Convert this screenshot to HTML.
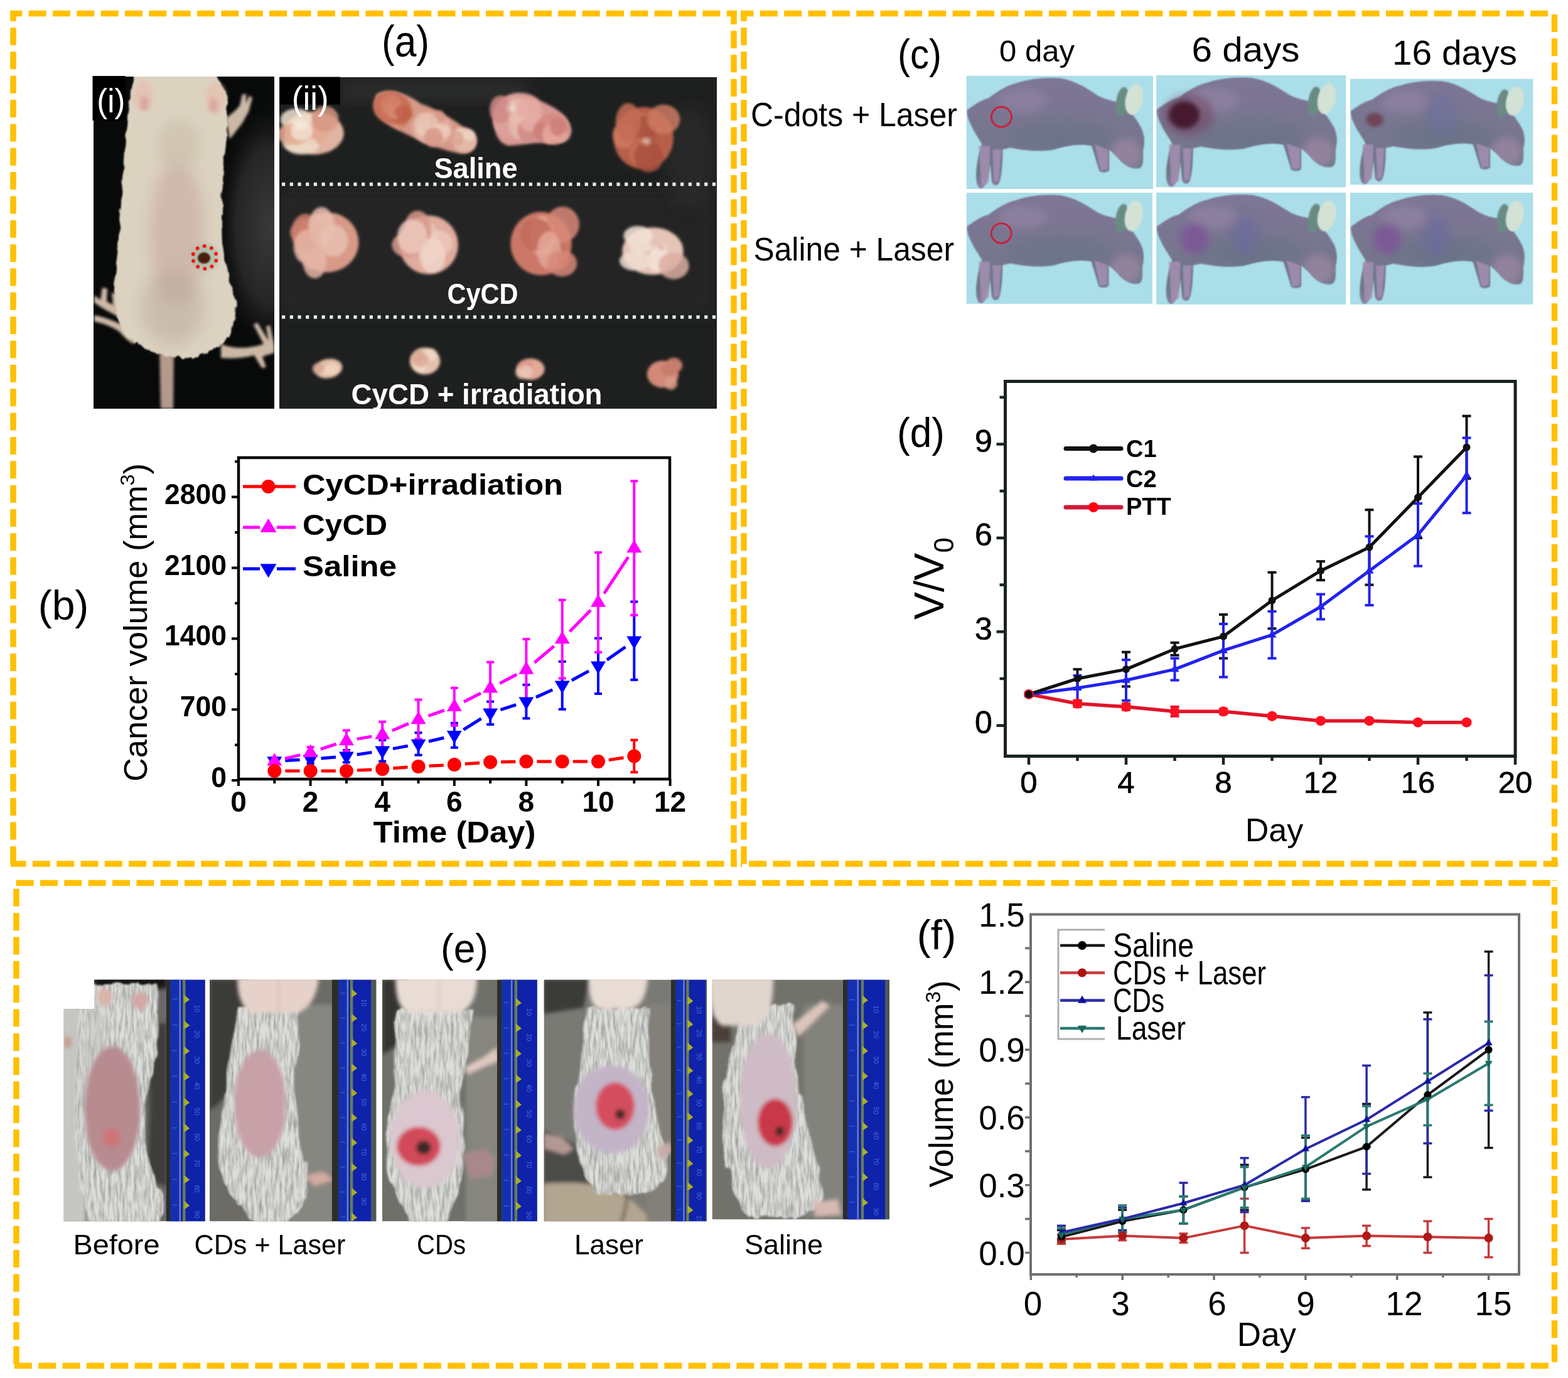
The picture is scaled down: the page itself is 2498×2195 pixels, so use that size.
<!DOCTYPE html><html><head><meta charset="utf-8"><title>Figure</title><style>html,body{margin:0;padding:0;background:#fff;}svg{display:block;}</style></head><body>
<svg xmlns="http://www.w3.org/2000/svg" width="2498" height="2195" viewBox="0 0 2498 2195">
<defs>
<filter id="b1" x="-30%" y="-30%" width="160%" height="160%"><feGaussianBlur stdDeviation="1"/></filter>
<filter id="b2" x="-30%" y="-30%" width="160%" height="160%"><feGaussianBlur stdDeviation="2"/></filter>
<filter id="b3" x="-30%" y="-30%" width="160%" height="160%"><feGaussianBlur stdDeviation="3"/></filter>
<filter id="b6" x="-30%" y="-30%" width="160%" height="160%"><feGaussianBlur stdDeviation="6"/></filter>
<filter id="b8" x="-30%" y="-30%" width="160%" height="160%"><feGaussianBlur stdDeviation="8"/></filter>
<filter id="b12" x="-30%" y="-30%" width="160%" height="160%"><feGaussianBlur stdDeviation="12"/></filter>
<filter id="fur" x="-20%" y="-20%" width="140%" height="140%"><feTurbulence type="fractalNoise" baseFrequency="0.08 0.02" numOctaves="2" seed="3" result="n"/><feDisplacementMap in="SourceGraphic" in2="n" scale="14" xChannelSelector="R" yChannelSelector="G" result="d"/><feGaussianBlur in="d" stdDeviation="1.5"/></filter>
<filter id="fur2" x="-10%" y="-10%" width="120%" height="120%"><feTurbulence type="fractalNoise" baseFrequency="0.15 0.05" numOctaves="2" seed="5" result="n"/><feDisplacementMap in="SourceGraphic" in2="n" scale="8" xChannelSelector="R" yChannelSelector="G" result="d"/><feGaussianBlur in="d" stdDeviation="1.2"/></filter>
<clipPath id="mcl"><path d="M1,55 C15,45 25,38 35,36 C50,25 65,15 80,12 C100,5 125,2 150,4 C175,8 195,22 210,32 C222,38 232,40 242,42 C255,48 270,65 280,85 C286,100 284,110 282,120 C282,135 283,145 276,148 C265,150 255,145 245,135 C240,128 232,122 228,118 L228,150 C228,155 215,156 212,152 L200,112 C180,108 160,112 140,118 C120,122 95,120 70,115 L58,118 C58,140 56,165 52,172 C48,178 40,175 40,165 L38,140 C36,160 32,178 24,180 C18,180 14,170 16,150 C18,130 22,118 25,110 C20,100 12,90 8,80 C4,72 1,66 1,55 Z"/></clipPath>
<linearGradient id="mgrad" x1="0" y1="0" x2="0" y2="1"><stop offset="0" stop-color="#7e7696"/><stop offset="0.5" stop-color="#78768f"/><stop offset="0.85" stop-color="#6c7889"/><stop offset="1" stop-color="#8a7c9c"/></linearGradient>
<filter id="furtex" x="0" y="0" width="100%" height="100%"><feTurbulence type="fractalNoise" baseFrequency="0.22 0.035" numOctaves="3" seed="7" result="t"/><feColorMatrix in="t" type="matrix" values="0 0 0 0 0.25  0 0 0 0 0.25  0 0 0 0 0.24  1.4 0 0 0 -0.5" result="a"/><feComposite in="a" in2="SourceGraphic" operator="in"/></filter>
</defs>
<rect width="2498" height="2195" fill="#fff"/>
<line x1="17" y1="21.5" x2="1174" y2="21.5" stroke="#FFC000" stroke-width="9.5" stroke-dasharray="28 10.35" stroke-dashoffset="9.75"/>
<line x1="21.0" y1="17" x2="21.0" y2="1381" stroke="#FFC000" stroke-width="9.5" stroke-dasharray="28 10.35" stroke-dashoffset="11.35"/>
<line x1="17" y1="1376.0" x2="1174" y2="1376.0" stroke="#FFC000" stroke-width="9.5" stroke-dasharray="28 10.35" stroke-dashoffset="3.55"/>
<line x1="1169.0" y1="17" x2="1169.0" y2="1381" stroke="#FFC000" stroke-width="9.5" stroke-dasharray="28 10.35" stroke-dashoffset="6.35"/>
<line x1="1180" y1="21.5" x2="2470" y2="21.5" stroke="#FFC000" stroke-width="9.5" stroke-dasharray="28 10.35" stroke-dashoffset="7.55"/>
<line x1="1185.0" y1="17" x2="1185.0" y2="1381" stroke="#FFC000" stroke-width="9.5" stroke-dasharray="28 10.35" stroke-dashoffset="11.35"/>
<line x1="2476.5" y1="17" x2="2476.5" y2="1381" stroke="#FFC000" stroke-width="9.5" stroke-dasharray="28 10.35" stroke-dashoffset="32.35"/>
<line x1="1180" y1="1376.0" x2="2482" y2="1376.0" stroke="#FFC000" stroke-width="9.5" stroke-dasharray="28 10.35" stroke-dashoffset="25.30"/>
<line x1="21" y1="1406.5" x2="2472.5" y2="1406.5" stroke="#FFC000" stroke-width="9.5" stroke-dasharray="28 10.35" stroke-dashoffset="33.75"/>
<line x1="26.0" y1="1406" x2="26.0" y2="2181" stroke="#FFC000" stroke-width="9.5" stroke-dasharray="28 10.35" stroke-dashoffset="28.55"/>
<line x1="2476.5" y1="1402" x2="2476.5" y2="2173" stroke="#FFC000" stroke-width="9.5" stroke-dasharray="28 10.35" stroke-dashoffset="27.35"/>
<line x1="21" y1="2175.5" x2="2470" y2="2175.5" stroke="#FFC000" stroke-width="9.5" stroke-dasharray="28 10.35" stroke-dashoffset="36.50"/>
<text x="646.0" y="90.0" font-size="70" font-weight="normal" text-anchor="middle" fill="#000" font-family='"Liberation Sans", Arial, sans-serif' textLength="76" lengthAdjust="spacingAndGlyphs" >(a)</text>
<clipPath id="cpi"><rect x="149" y="122" width="288" height="529"/></clipPath>
<g clip-path="url(#cpi)">
<rect x="149" y="122" width="288" height="529" fill="#080a0a"/>
<radialGradient id="rgi"><stop offset="0" stop-color="#3a3838"/><stop offset="0.6" stop-color="#262525"/><stop offset="1" stop-color="#080a0a" stop-opacity="0"/></radialGradient>
<ellipse cx="430" cy="360" rx="90" ry="210" fill="url(#rgi)"/>
<g filter="url(#b2)" fill="#cdb8a6">
<path d="M205,512 C190,505 175,498 162,490 L150,482 L150,470 L160,478 L163,458 L171,460 L170,480 L180,486 L178,466 L186,468 L187,490 C196,498 206,505 214,515 L214,548 C205,545 196,535 190,528 C178,520 165,515 150,512 L150,502 C165,505 180,510 200,520 Z"/>
<path d="M352,548 C372,556 395,556 420,548 L404,517 L410,514 L428,543 L424,520 L430,518 L437,550 L437,562 L418,568 L424,585 L417,586 L405,566 C388,570 368,572 352,570 Z"/>
<path d="M360,188 C368,182 376,176 382,168 L386,150 L392,150 L392,165 L397,152 L402,156 L396,178 L386,196 C378,206 372,214 366,222 Z"/>
</g>
<path d="M254,555 L277,555 L276,651 L256,651 Z" fill="#b49a8c" filter="url(#b2)"/>
<path d="M212,100 L345,100 L345,122 C358,138 364,160 362,182 C364,205 360,230 357,255 C354,300 353,340 355,390 C358,425 368,450 374,472 C378,495 374,518 364,535 C358,545 350,552 340,556 L318,566 L300,572 L282,568 L262,566 L240,560 L222,550 L205,538 C192,525 184,505 182,480 C181,450 185,420 188,395 C191,350 195,300 198,255 C201,205 205,160 212,122 Z" fill="#dcd2c0" filter="url(#fur2)"/>
<ellipse cx="282" cy="370" rx="42" ry="115" fill="#c4a29c" opacity="0.55" filter="url(#b12)"/>
<ellipse cx="275" cy="490" rx="50" ry="60" fill="#b4a396" opacity="0.45" filter="url(#b12)"/>
<ellipse cx="285" cy="230" rx="35" ry="40" fill="#c8bba8" opacity="0.5" filter="url(#b8)"/>
<ellipse cx="228" cy="152" rx="16" ry="24" fill="#e4c4b4" filter="url(#b3)"/>
<ellipse cx="343" cy="155" rx="16" ry="24" fill="#e4c4b4" filter="url(#b3)"/>
<ellipse cx="230" cy="165" rx="7" ry="12" fill="#d8a8a0" filter="url(#b3)"/>
<ellipse cx="340" cy="168" rx="7" ry="12" fill="#d8a8a0" filter="url(#b3)"/>
<ellipse cx="327" cy="410" rx="22" ry="22" fill="#8ab8a0" opacity="0.5" filter="url(#b3)"/>
<ellipse cx="325" cy="411" rx="10" ry="9" fill="#4a1a10" filter="url(#b1)"/>
<circle cx="344.2" cy="415.3" r="3" fill="#ff1010"/>
<circle cx="337.4" cy="424.4" r="3" fill="#ff1010"/>
<circle cx="326.3" cy="428.0" r="3" fill="#ff1010"/>
<circle cx="315.1" cy="424.7" r="3" fill="#ff1010"/>
<circle cx="308.0" cy="415.8" r="3" fill="#ff1010"/>
<circle cx="307.8" cy="404.7" r="3" fill="#ff1010"/>
<circle cx="314.6" cy="395.6" r="3" fill="#ff1010"/>
<circle cx="325.7" cy="392.0" r="3" fill="#ff1010"/>
<circle cx="336.9" cy="395.3" r="3" fill="#ff1010"/>
<circle cx="344.0" cy="404.2" r="3" fill="#ff1010"/>
</g>
<rect x="147.5" y="121" width="52.5" height="71" fill="#000"/>
<text x="176.8" y="179.3" font-size="54" font-weight="normal" text-anchor="middle" fill="#fff" font-family='"Liberation Sans", Arial, sans-serif' textLength="45" lengthAdjust="spacingAndGlyphs" >(i)</text>
<clipPath id="cpii"><rect x="445" y="123" width="697" height="528"/></clipPath>
<g clip-path="url(#cpii)">
<rect x="445" y="123" width="697" height="528" fill="#1e201f"/>
<rect x="540" y="130" width="300" height="30" fill="#3a3a3a" opacity="0.5" filter="url(#b12)"/>
<rect x="445" y="300" width="697" height="200" fill="#262827" opacity="0.8" filter="url(#b12)"/>
<ellipse cx="1100" cy="250" rx="40" ry="80" fill="#2e2e2e" opacity="0.6" filter="url(#b12)"/>
<g transform="rotate(0 500 212)" filter="url(#b2)">
<ellipse cx="500" cy="212" rx="47.7" ry="34.2" fill="#e0b4a0"/>
<ellipse cx="475.2" cy="227.8" rx="25.1" ry="16.0" fill="#ecd8c6" opacity="0.85"/>
<ellipse cx="499.7" cy="209.7" rx="23.9" ry="20.9" fill="#e4a890" opacity="0.85"/>
<ellipse cx="472.4" cy="190.5" rx="25.8" ry="17.6" fill="#f0e0d0" opacity="0.85"/>
<ellipse cx="517.8" cy="189.3" rx="21.7" ry="20.3" fill="#d89884" opacity="0.85"/>
<ellipse cx="481.6" cy="232.3" rx="26.5" ry="14.0" fill="#ecd8c6" opacity="0.85"/>
<ellipse cx="467.8" cy="213.9" rx="26.9" ry="17.2" fill="#e4a890" opacity="0.85"/>
<ellipse cx="480.8" cy="208.4" rx="17.3" ry="15.7" fill="#f0e0d0" opacity="0.85"/>
</g>
<ellipse cx="478" cy="200" rx="10" ry="8.0" fill="#f8f0e4" opacity="0.6" filter="url(#b3)"/>
<path d="M600,150 C620,138 650,150 670,165 C700,175 730,195 755,215 C765,235 750,248 730,244 C700,238 670,225 640,210 C610,198 590,175 600,150 Z" fill="#d69a88" filter="url(#b2)"/>
<g transform="rotate(20 625 172)" filter="url(#b2)">
<ellipse cx="625" cy="172" rx="31.5" ry="26.1" fill="#c8705a"/>
<ellipse cx="645.4" cy="187.6" rx="11.6" ry="11.0" fill="#d48068" opacity="0.85"/>
<ellipse cx="640.0" cy="180.2" rx="15.9" ry="12.6" fill="#c06048" opacity="0.85"/>
<ellipse cx="629.7" cy="175.7" rx="15.3" ry="11.5" fill="#dc9a88" opacity="0.85"/>
<ellipse cx="621.9" cy="168.3" rx="16.3" ry="17.4" fill="#d48068" opacity="0.85"/>
<ellipse cx="645.1" cy="173.5" rx="14.3" ry="12.3" fill="#c06048" opacity="0.85"/>
</g>
<g transform="rotate(15 688 205)" filter="url(#b2)">
<ellipse cx="688" cy="205" rx="31.5" ry="26.1" fill="#e2b0a0"/>
<ellipse cx="676.3" cy="206.5" rx="13.8" ry="14.6" fill="#ecccbc" opacity="0.85"/>
<ellipse cx="693.6" cy="189.9" rx="11.3" ry="16.3" fill="#d8988a" opacity="0.85"/>
<ellipse cx="677.2" cy="195.8" rx="18.2" ry="13.7" fill="#e8c2b0" opacity="0.85"/>
<ellipse cx="703.1" cy="204.2" rx="15.7" ry="11.5" fill="#ecccbc" opacity="0.85"/>
<ellipse cx="694.0" cy="217.8" rx="14.9" ry="15.6" fill="#d8988a" opacity="0.85"/>
</g>
<g transform="rotate(0 740 223)" filter="url(#b2)">
<ellipse cx="740" cy="223" rx="19.8" ry="19.8" fill="#e4b8a8"/>
<ellipse cx="732.6" cy="212.5" rx="8.8" ry="8.7" fill="#f0d4c4" opacity="0.85"/>
<ellipse cx="727.8" cy="220.4" rx="11.1" ry="12.1" fill="#dca494" opacity="0.85"/>
<ellipse cx="747.5" cy="215.7" rx="9.4" ry="9.4" fill="#f0d4c4" opacity="0.85"/>
</g>
<path d="M790,170 C800,145 840,140 860,160 C880,170 905,180 910,205 C912,225 895,232 870,228 C850,226 830,232 810,232 C790,228 782,200 790,170 Z" fill="#d89a94" filter="url(#b2)"/>
<g transform="rotate(0 825 188)" filter="url(#b2)">
<ellipse cx="825" cy="188" rx="40.5" ry="35.1" fill="#dca09a"/>
<ellipse cx="832.1" cy="199.3" rx="21.6" ry="22.9" fill="#e8bcb0" opacity="0.85"/>
<ellipse cx="838.8" cy="207.8" rx="14.7" ry="18.4" fill="#d08a86" opacity="0.85"/>
<ellipse cx="850.5" cy="195.0" rx="22.5" ry="15.1" fill="#e4aca4" opacity="0.85"/>
<ellipse cx="823.2" cy="176.1" rx="19.3" ry="19.4" fill="#e8bcb0" opacity="0.85"/>
<ellipse cx="797.0" cy="174.7" rx="16.9" ry="22.6" fill="#d08a86" opacity="0.85"/>
<ellipse cx="840.3" cy="172.1" rx="21.6" ry="15.3" fill="#e4aca4" opacity="0.85"/>
</g>
<g transform="rotate(0 880 205)" filter="url(#b2)">
<ellipse cx="880" cy="205" rx="27.0" ry="24.8" fill="#d88c84"/>
<ellipse cx="891.3" cy="215.6" rx="12.5" ry="11.6" fill="#e4a89c" opacity="0.85"/>
<ellipse cx="860.8" cy="210.4" rx="12.4" ry="14.9" fill="#cc7e78" opacity="0.85"/>
<ellipse cx="875.1" cy="213.9" rx="11.2" ry="15.2" fill="#e4a89c" opacity="0.85"/>
<ellipse cx="888.8" cy="202.2" rx="12.8" ry="14.4" fill="#cc7e78" opacity="0.85"/>
</g>
<ellipse cx="815" cy="172" rx="8" ry="6.4" fill="#f8f0e4" opacity="0.5" filter="url(#b3)"/>
<g transform="rotate(0 1025 220)" filter="url(#b2)">
<ellipse cx="1025" cy="220" rx="47.7" ry="49.5" fill="#b85e48"/>
<ellipse cx="1013.0" cy="197.0" rx="23.9" ry="20.8" fill="#c46c54" opacity="0.85"/>
<ellipse cx="1027.4" cy="211.1" rx="17.6" ry="26.5" fill="#a85040" opacity="0.85"/>
<ellipse cx="993.6" cy="215.6" rx="17.7" ry="21.0" fill="#cc7a60" opacity="0.85"/>
<ellipse cx="1019.9" cy="241.6" rx="18.3" ry="22.7" fill="#c46c54" opacity="0.85"/>
<ellipse cx="1033.6" cy="249.5" rx="23.1" ry="25.0" fill="#a85040" opacity="0.85"/>
<ellipse cx="1057.3" cy="190.1" rx="26.1" ry="23.6" fill="#cc7a60" opacity="0.85"/>
<ellipse cx="1000.9" cy="194.8" rx="20.2" ry="30.6" fill="#c46c54" opacity="0.85"/>
</g>
<ellipse cx="1030" cy="225" rx="7" ry="5.6" fill="#f8f0e4" opacity="0.6" filter="url(#b3)"/>
<g transform="rotate(0 521 386)" filter="url(#b2)">
<ellipse cx="521" cy="386" rx="50.4" ry="47.7" fill="#d89a88"/>
<ellipse cx="501.4" cy="415.4" rx="19.3" ry="28.0" fill="#e4b4a4" opacity="0.85"/>
<ellipse cx="491.3" cy="369.9" rx="29.1" ry="21.7" fill="#cc806e" opacity="0.85"/>
<ellipse cx="531.2" cy="383.4" rx="23.0" ry="25.4" fill="#e8c0b0" opacity="0.85"/>
<ellipse cx="498.9" cy="407.0" rx="18.9" ry="22.1" fill="#e4b4a4" opacity="0.85"/>
<ellipse cx="486.6" cy="371.2" rx="22.5" ry="30.6" fill="#cc806e" opacity="0.85"/>
<ellipse cx="512.3" cy="361.4" rx="20.8" ry="31.7" fill="#e8c0b0" opacity="0.85"/>
<ellipse cx="489.7" cy="393.6" rx="22.1" ry="27.5" fill="#e4b4a4" opacity="0.85"/>
</g>
<g transform="rotate(0 683 390)" filter="url(#b2)">
<ellipse cx="683" cy="390" rx="46.8" ry="46.8" fill="#e0ac9e"/>
<ellipse cx="680.5" cy="382.1" rx="18.1" ry="29.5" fill="#ecc8bc" opacity="0.85"/>
<ellipse cx="650.1" cy="390.2" rx="26.0" ry="19.7" fill="#d89a8c" opacity="0.85"/>
<ellipse cx="686.6" cy="397.3" rx="17.1" ry="23.5" fill="#f0d4c8" opacity="0.85"/>
<ellipse cx="696.5" cy="387.0" rx="24.2" ry="20.7" fill="#ecc8bc" opacity="0.85"/>
<ellipse cx="665.6" cy="365.7" rx="21.9" ry="30.2" fill="#d89a8c" opacity="0.85"/>
<ellipse cx="689.0" cy="407.1" rx="20.6" ry="28.0" fill="#f0d4c8" opacity="0.85"/>
<ellipse cx="656.5" cy="377.0" rx="23.7" ry="27.8" fill="#ecc8bc" opacity="0.85"/>
</g>
<g transform="rotate(0 862 388)" filter="url(#b2)">
<ellipse cx="862" cy="388" rx="48.6" ry="50.4" fill="#cc7868"/>
<ellipse cx="866.9" cy="383.2" rx="23.5" ry="22.9" fill="#d88878" opacity="0.85"/>
<ellipse cx="883.7" cy="409.7" rx="24.3" ry="22.3" fill="#c06a5a" opacity="0.85"/>
<ellipse cx="863.4" cy="376.4" rx="20.0" ry="33.0" fill="#e4a898" opacity="0.85"/>
<ellipse cx="896.3" cy="357.4" rx="26.6" ry="28.3" fill="#d88878" opacity="0.85"/>
<ellipse cx="853.8" cy="373.5" rx="24.6" ry="26.3" fill="#c06a5a" opacity="0.85"/>
<ellipse cx="874.8" cy="398.9" rx="18.7" ry="30.5" fill="#e4a898" opacity="0.85"/>
<ellipse cx="895.3" cy="419.5" rx="23.9" ry="20.8" fill="#d88878" opacity="0.85"/>
</g>
<g transform="rotate(0 1040 400)" filter="url(#b2)">
<ellipse cx="1040" cy="400" rx="48.6" ry="37.8" fill="#e6c4b8"/>
<ellipse cx="1036.7" cy="403.0" rx="27.3" ry="19.8" fill="#f0dcd0" opacity="0.85"/>
<ellipse cx="1040.5" cy="404.4" rx="19.3" ry="20.3" fill="#dcaea0" opacity="0.85"/>
<ellipse cx="1049.0" cy="414.8" rx="18.3" ry="18.2" fill="#f4e4d8" opacity="0.85"/>
<ellipse cx="1011.7" cy="415.6" rx="24.8" ry="15.5" fill="#f0dcd0" opacity="0.85"/>
<ellipse cx="1073.3" cy="423.4" rx="24.3" ry="21.3" fill="#dcaea0" opacity="0.85"/>
<ellipse cx="1016.3" cy="375.6" rx="23.0" ry="15.7" fill="#f4e4d8" opacity="0.85"/>
<ellipse cx="1018.6" cy="387.0" rx="17.6" ry="19.8" fill="#f0dcd0" opacity="0.85"/>
</g>
<ellipse cx="1040" cy="395" rx="10" ry="8.0" fill="#f8f0e4" opacity="0.5" filter="url(#b3)"/>
<g transform="rotate(-10 523 587)" filter="url(#b2)">
<ellipse cx="523" cy="587" rx="22.5" ry="15.3" fill="#e4c0aa"/>
<ellipse cx="522.2" cy="590.2" rx="11.3" ry="6.7" fill="#eed4c0" opacity="0.85"/>
<ellipse cx="507.3" cy="584.4" rx="9.4" ry="9.4" fill="#d8a890" opacity="0.85"/>
<ellipse cx="529.1" cy="589.1" rx="10.8" ry="8.8" fill="#eed4c0" opacity="0.85"/>
</g>
<g transform="rotate(0 677 575)" filter="url(#b2)">
<ellipse cx="677" cy="575" rx="24.3" ry="21.6" fill="#e6c2ae"/>
<ellipse cx="668.7" cy="580.3" rx="12.3" ry="13.5" fill="#f0d8c6" opacity="0.85"/>
<ellipse cx="666.1" cy="567.2" rx="9.4" ry="9.9" fill="#dcaa98" opacity="0.85"/>
<ellipse cx="685.1" cy="564.4" rx="11.5" ry="9.9" fill="#f0d8c6" opacity="0.85"/>
<ellipse cx="669.9" cy="573.0" rx="13.2" ry="12.1" fill="#dcaa98" opacity="0.85"/>
</g>
<g transform="rotate(0 845 588)" filter="url(#b2)">
<ellipse cx="845" cy="588" rx="22.5" ry="17.1" fill="#e2aa98"/>
<ellipse cx="832.4" cy="592.6" rx="11.3" ry="11.1" fill="#ecc4b4" opacity="0.85"/>
<ellipse cx="837.7" cy="582.4" rx="11.7" ry="9.8" fill="#d89888" opacity="0.85"/>
<ellipse cx="838.7" cy="592.2" rx="10.0" ry="10.4" fill="#ecc4b4" opacity="0.85"/>
</g>
<g transform="rotate(0 1056 596)" filter="url(#b2)">
<ellipse cx="1056" cy="596" rx="25.2" ry="21.6" fill="#d28a78"/>
<ellipse cx="1072.7" cy="581.9" rx="13.1" ry="9.6" fill="#dc9c8a" opacity="0.85"/>
<ellipse cx="1073.4" cy="582.1" rx="13.9" ry="12.6" fill="#c87a6a" opacity="0.85"/>
<ellipse cx="1068.8" cy="610.4" rx="10.3" ry="10.6" fill="#dc9c8a" opacity="0.85"/>
<ellipse cx="1063.5" cy="589.7" rx="10.4" ry="10.0" fill="#c87a6a" opacity="0.85"/>
</g>
<line x1="449" y1="293.5" x2="1142" y2="293.5" stroke="#e4ece4" stroke-width="5.3" stroke-dasharray="5.3 7.4"/>
<line x1="449" y1="505" x2="1142" y2="505" stroke="#e4ece4" stroke-width="5.3" stroke-dasharray="5.3 7.4"/>
<text x="758.0" y="284.0" font-size="47" font-weight="bold" text-anchor="middle" fill="#fff" font-family='"Liberation Sans", Arial, sans-serif' textLength="133" lengthAdjust="spacingAndGlyphs" >Saline</text>
<text x="769.0" y="483.5" font-size="47" font-weight="bold" text-anchor="middle" fill="#fff" font-family='"Liberation Sans", Arial, sans-serif' textLength="113" lengthAdjust="spacingAndGlyphs" >CyCD</text>
<text x="759.5" y="644.0" font-size="47" font-weight="bold" text-anchor="middle" fill="#fff" font-family='"Liberation Sans", Arial, sans-serif' textLength="400" lengthAdjust="spacingAndGlyphs" >CyCD + irradiation</text>
</g>
<rect x="445.4" y="122.5" width="96.5" height="44" fill="#000"/>
<text x="494.3" y="174.5" font-size="54" font-weight="normal" text-anchor="middle" fill="#fff" font-family='"Liberation Sans", Arial, sans-serif' textLength="59" lengthAdjust="spacingAndGlyphs" >(ii)</text>
<rect x="380" y="729" width="687" height="512" fill="none" stroke="#000" stroke-width="4.5"/>
<line x1="369.0" y1="1243.0" x2="380.0" y2="1243.0" stroke="#000" stroke-width="4" />
<line x1="374.0" y1="1186.6" x2="380.0" y2="1186.6" stroke="#000" stroke-width="4" />
<line x1="369.0" y1="1130.2" x2="380.0" y2="1130.2" stroke="#000" stroke-width="4" />
<line x1="374.0" y1="1073.7" x2="380.0" y2="1073.7" stroke="#000" stroke-width="4" />
<line x1="369.0" y1="1017.3" x2="380.0" y2="1017.3" stroke="#000" stroke-width="4" />
<line x1="374.0" y1="960.9" x2="380.0" y2="960.9" stroke="#000" stroke-width="4" />
<line x1="369.0" y1="904.5" x2="380.0" y2="904.5" stroke="#000" stroke-width="4" />
<line x1="374.0" y1="848.1" x2="380.0" y2="848.1" stroke="#000" stroke-width="4" />
<line x1="369.0" y1="791.6" x2="380.0" y2="791.6" stroke="#000" stroke-width="4" />
<line x1="374.0" y1="735.2" x2="380.0" y2="735.2" stroke="#000" stroke-width="4" />
<text transform="translate(361.0,1254.0) scale(1,1.04)" font-size="44.5" font-weight="bold" text-anchor="end" fill="#000" font-family='"Liberation Sans", Arial, sans-serif' >0</text>
<text transform="translate(361.0,1141.2) scale(1,1.04)" font-size="44.5" font-weight="bold" text-anchor="end" fill="#000" font-family='"Liberation Sans", Arial, sans-serif' >700</text>
<text transform="translate(361.0,1028.3) scale(1,1.04)" font-size="44.5" font-weight="bold" text-anchor="end" fill="#000" font-family='"Liberation Sans", Arial, sans-serif' >1400</text>
<text transform="translate(361.0,915.5) scale(1,1.04)" font-size="44.5" font-weight="bold" text-anchor="end" fill="#000" font-family='"Liberation Sans", Arial, sans-serif' >2100</text>
<text transform="translate(361.0,802.6) scale(1,1.04)" font-size="44.5" font-weight="bold" text-anchor="end" fill="#000" font-family='"Liberation Sans", Arial, sans-serif' >2800</text>
<line x1="380.0" y1="1241.0" x2="380.0" y2="1252.0" stroke="#000" stroke-width="4" />
<line x1="437.3" y1="1241.0" x2="437.3" y2="1248.0" stroke="#000" stroke-width="4" />
<line x1="494.6" y1="1241.0" x2="494.6" y2="1252.0" stroke="#000" stroke-width="4" />
<line x1="551.9" y1="1241.0" x2="551.9" y2="1248.0" stroke="#000" stroke-width="4" />
<line x1="609.2" y1="1241.0" x2="609.2" y2="1252.0" stroke="#000" stroke-width="4" />
<line x1="666.5" y1="1241.0" x2="666.5" y2="1248.0" stroke="#000" stroke-width="4" />
<line x1="723.8" y1="1241.0" x2="723.8" y2="1252.0" stroke="#000" stroke-width="4" />
<line x1="781.1" y1="1241.0" x2="781.1" y2="1248.0" stroke="#000" stroke-width="4" />
<line x1="838.4" y1="1241.0" x2="838.4" y2="1252.0" stroke="#000" stroke-width="4" />
<line x1="895.7" y1="1241.0" x2="895.7" y2="1248.0" stroke="#000" stroke-width="4" />
<line x1="953.0" y1="1241.0" x2="953.0" y2="1252.0" stroke="#000" stroke-width="4" />
<line x1="1010.3" y1="1241.0" x2="1010.3" y2="1248.0" stroke="#000" stroke-width="4" />
<line x1="1067.6" y1="1241.0" x2="1067.6" y2="1252.0" stroke="#000" stroke-width="4" />
<text x="380.0" y="1293.0" font-size="46" font-weight="bold" text-anchor="middle" fill="#000" font-family='"Liberation Sans", Arial, sans-serif' >0</text>
<text x="494.6" y="1293.0" font-size="46" font-weight="bold" text-anchor="middle" fill="#000" font-family='"Liberation Sans", Arial, sans-serif' >2</text>
<text x="609.2" y="1293.0" font-size="46" font-weight="bold" text-anchor="middle" fill="#000" font-family='"Liberation Sans", Arial, sans-serif' >4</text>
<text x="723.8" y="1293.0" font-size="46" font-weight="bold" text-anchor="middle" fill="#000" font-family='"Liberation Sans", Arial, sans-serif' >6</text>
<text x="838.4" y="1293.0" font-size="46" font-weight="bold" text-anchor="middle" fill="#000" font-family='"Liberation Sans", Arial, sans-serif' >8</text>
<text x="953.0" y="1293.0" font-size="46" font-weight="bold" text-anchor="middle" fill="#000" font-family='"Liberation Sans", Arial, sans-serif' >10</text>
<text x="1067.6" y="1293.0" font-size="46" font-weight="bold" text-anchor="middle" fill="#000" font-family='"Liberation Sans", Arial, sans-serif' >12</text>
<text transform="translate(724.0,1342.3) scale(1,1.08)" font-size="45" font-weight="bold" text-anchor="middle" fill="#000" font-family='"Liberation Sans", Arial, sans-serif' textLength="259" lengthAdjust="spacingAndGlyphs" >Time (Day)</text>
<text transform="translate(233.5,991.5) rotate(-90)" font-size="52" text-anchor="middle" font-family='"Liberation Sans", Arial, sans-serif' fill="#000" textLength="507" lengthAdjust="spacingAndGlyphs">Cancer volume (mm<tspan font-size="32" dy="-20">3</tspan><tspan dy="20">)</tspan></text>
<line x1="437.3" y1="1208.3" x2="437.3" y2="1216.4" stroke="#0000ff" stroke-width="4" />
<line x1="431.3" y1="1208.3" x2="443.3" y2="1208.3" stroke="#0000ff" stroke-width="4" />
<line x1="431.3" y1="1216.4" x2="443.3" y2="1216.4" stroke="#0000ff" stroke-width="4" />
<line x1="494.6" y1="1203.0" x2="494.6" y2="1215.9" stroke="#0000ff" stroke-width="4" />
<line x1="488.6" y1="1203.0" x2="500.6" y2="1203.0" stroke="#0000ff" stroke-width="4" />
<line x1="488.6" y1="1215.9" x2="500.6" y2="1215.9" stroke="#0000ff" stroke-width="4" />
<line x1="551.9" y1="1195.0" x2="551.9" y2="1214.3" stroke="#0000ff" stroke-width="4" />
<line x1="545.9" y1="1195.0" x2="557.9" y2="1195.0" stroke="#0000ff" stroke-width="4" />
<line x1="545.9" y1="1214.3" x2="557.9" y2="1214.3" stroke="#0000ff" stroke-width="4" />
<line x1="609.2" y1="1178.8" x2="609.2" y2="1212.7" stroke="#0000ff" stroke-width="4" />
<line x1="603.2" y1="1178.8" x2="615.2" y2="1178.8" stroke="#0000ff" stroke-width="4" />
<line x1="603.2" y1="1212.7" x2="615.2" y2="1212.7" stroke="#0000ff" stroke-width="4" />
<line x1="666.5" y1="1167.2" x2="666.5" y2="1202.7" stroke="#0000ff" stroke-width="4" />
<line x1="660.5" y1="1167.2" x2="672.5" y2="1167.2" stroke="#0000ff" stroke-width="4" />
<line x1="660.5" y1="1202.7" x2="672.5" y2="1202.7" stroke="#0000ff" stroke-width="4" />
<line x1="723.8" y1="1151.8" x2="723.8" y2="1190.8" stroke="#0000ff" stroke-width="4" />
<line x1="717.8" y1="1151.8" x2="729.8" y2="1151.8" stroke="#0000ff" stroke-width="4" />
<line x1="717.8" y1="1190.8" x2="729.8" y2="1190.8" stroke="#0000ff" stroke-width="4" />
<line x1="781.1" y1="1117.6" x2="781.1" y2="1154.0" stroke="#0000ff" stroke-width="4" />
<line x1="775.1" y1="1117.6" x2="787.1" y2="1117.6" stroke="#0000ff" stroke-width="4" />
<line x1="775.1" y1="1154.0" x2="787.1" y2="1154.0" stroke="#0000ff" stroke-width="4" />
<line x1="838.4" y1="1090.8" x2="838.4" y2="1144.3" stroke="#0000ff" stroke-width="4" />
<line x1="832.4" y1="1090.8" x2="844.4" y2="1090.8" stroke="#0000ff" stroke-width="4" />
<line x1="832.4" y1="1144.3" x2="844.4" y2="1144.3" stroke="#0000ff" stroke-width="4" />
<line x1="895.7" y1="1053.8" x2="895.7" y2="1129.8" stroke="#0000ff" stroke-width="4" />
<line x1="889.7" y1="1053.8" x2="901.7" y2="1053.8" stroke="#0000ff" stroke-width="4" />
<line x1="889.7" y1="1129.8" x2="901.7" y2="1129.8" stroke="#0000ff" stroke-width="4" />
<line x1="953.0" y1="1016.7" x2="953.0" y2="1105.0" stroke="#0000ff" stroke-width="4" />
<line x1="947.0" y1="1016.7" x2="959.0" y2="1016.7" stroke="#0000ff" stroke-width="4" />
<line x1="947.0" y1="1105.0" x2="959.0" y2="1105.0" stroke="#0000ff" stroke-width="4" />
<line x1="1010.3" y1="958.5" x2="1010.3" y2="1082.9" stroke="#0000ff" stroke-width="4" />
<line x1="1004.3" y1="958.5" x2="1016.3" y2="958.5" stroke="#0000ff" stroke-width="4" />
<line x1="1004.3" y1="1082.9" x2="1016.3" y2="1082.9" stroke="#0000ff" stroke-width="4" />
<line x1="437.3" y1="1207.5" x2="437.3" y2="1217.2" stroke="#ff00ff" stroke-width="4" />
<line x1="431.3" y1="1207.5" x2="443.3" y2="1207.5" stroke="#ff00ff" stroke-width="4" />
<line x1="431.3" y1="1217.2" x2="443.3" y2="1217.2" stroke="#ff00ff" stroke-width="4" />
<line x1="494.6" y1="1190.0" x2="494.6" y2="1207.4" stroke="#ff00ff" stroke-width="4" />
<line x1="488.6" y1="1190.0" x2="500.6" y2="1190.0" stroke="#ff00ff" stroke-width="4" />
<line x1="488.6" y1="1207.4" x2="500.6" y2="1207.4" stroke="#ff00ff" stroke-width="4" />
<line x1="551.9" y1="1163.4" x2="551.9" y2="1196.6" stroke="#ff00ff" stroke-width="4" />
<line x1="545.9" y1="1163.4" x2="557.9" y2="1163.4" stroke="#ff00ff" stroke-width="4" />
<line x1="545.9" y1="1196.6" x2="557.9" y2="1196.6" stroke="#ff00ff" stroke-width="4" />
<line x1="609.2" y1="1149.7" x2="609.2" y2="1190.9" stroke="#ff00ff" stroke-width="4" />
<line x1="603.2" y1="1149.7" x2="615.2" y2="1149.7" stroke="#ff00ff" stroke-width="4" />
<line x1="603.2" y1="1190.9" x2="615.2" y2="1190.9" stroke="#ff00ff" stroke-width="4" />
<line x1="666.5" y1="1114.5" x2="666.5" y2="1177.4" stroke="#ff00ff" stroke-width="4" />
<line x1="660.5" y1="1114.5" x2="672.5" y2="1114.5" stroke="#ff00ff" stroke-width="4" />
<line x1="660.5" y1="1177.4" x2="672.5" y2="1177.4" stroke="#ff00ff" stroke-width="4" />
<line x1="723.8" y1="1095.8" x2="723.8" y2="1155.8" stroke="#ff00ff" stroke-width="4" />
<line x1="717.8" y1="1095.8" x2="729.8" y2="1095.8" stroke="#ff00ff" stroke-width="4" />
<line x1="717.8" y1="1155.8" x2="729.8" y2="1155.8" stroke="#ff00ff" stroke-width="4" />
<line x1="781.1" y1="1054.7" x2="781.1" y2="1137.9" stroke="#ff00ff" stroke-width="4" />
<line x1="775.1" y1="1054.7" x2="787.1" y2="1054.7" stroke="#ff00ff" stroke-width="4" />
<line x1="775.1" y1="1137.9" x2="787.1" y2="1137.9" stroke="#ff00ff" stroke-width="4" />
<line x1="838.4" y1="1018.1" x2="838.4" y2="1114.8" stroke="#ff00ff" stroke-width="4" />
<line x1="832.4" y1="1018.1" x2="844.4" y2="1018.1" stroke="#ff00ff" stroke-width="4" />
<line x1="832.4" y1="1114.8" x2="844.4" y2="1114.8" stroke="#ff00ff" stroke-width="4" />
<line x1="895.7" y1="955.7" x2="895.7" y2="1080.5" stroke="#ff00ff" stroke-width="4" />
<line x1="889.7" y1="955.7" x2="901.7" y2="955.7" stroke="#ff00ff" stroke-width="4" />
<line x1="889.7" y1="1080.5" x2="901.7" y2="1080.5" stroke="#ff00ff" stroke-width="4" />
<line x1="953.0" y1="880.1" x2="953.0" y2="1039.1" stroke="#ff00ff" stroke-width="4" />
<line x1="947.0" y1="880.1" x2="959.0" y2="880.1" stroke="#ff00ff" stroke-width="4" />
<line x1="947.0" y1="1039.1" x2="959.0" y2="1039.1" stroke="#ff00ff" stroke-width="4" />
<line x1="1010.3" y1="766.3" x2="1010.3" y2="979.8" stroke="#ff00ff" stroke-width="4" />
<line x1="1004.3" y1="766.3" x2="1016.3" y2="766.3" stroke="#ff00ff" stroke-width="4" />
<line x1="1004.3" y1="979.8" x2="1016.3" y2="979.8" stroke="#ff00ff" stroke-width="4" />
<line x1="437.3" y1="1224.0" x2="437.3" y2="1232.0" stroke="#ff0000" stroke-width="4" />
<line x1="431.3" y1="1224.0" x2="443.3" y2="1224.0" stroke="#ff0000" stroke-width="4" />
<line x1="431.3" y1="1232.0" x2="443.3" y2="1232.0" stroke="#ff0000" stroke-width="4" />
<line x1="494.6" y1="1224.0" x2="494.6" y2="1232.0" stroke="#ff0000" stroke-width="4" />
<line x1="488.6" y1="1224.0" x2="500.6" y2="1224.0" stroke="#ff0000" stroke-width="4" />
<line x1="488.6" y1="1232.0" x2="500.6" y2="1232.0" stroke="#ff0000" stroke-width="4" />
<line x1="551.9" y1="1224.0" x2="551.9" y2="1232.0" stroke="#ff0000" stroke-width="4" />
<line x1="545.9" y1="1224.0" x2="557.9" y2="1224.0" stroke="#ff0000" stroke-width="4" />
<line x1="545.9" y1="1232.0" x2="557.9" y2="1232.0" stroke="#ff0000" stroke-width="4" />
<line x1="609.2" y1="1220.9" x2="609.2" y2="1229.0" stroke="#ff0000" stroke-width="4" />
<line x1="603.2" y1="1220.9" x2="615.2" y2="1220.9" stroke="#ff0000" stroke-width="4" />
<line x1="603.2" y1="1229.0" x2="615.2" y2="1229.0" stroke="#ff0000" stroke-width="4" />
<line x1="666.5" y1="1216.1" x2="666.5" y2="1225.8" stroke="#ff0000" stroke-width="4" />
<line x1="660.5" y1="1216.1" x2="672.5" y2="1216.1" stroke="#ff0000" stroke-width="4" />
<line x1="660.5" y1="1225.8" x2="672.5" y2="1225.8" stroke="#ff0000" stroke-width="4" />
<line x1="723.8" y1="1213.2" x2="723.8" y2="1222.8" stroke="#ff0000" stroke-width="4" />
<line x1="717.8" y1="1213.2" x2="729.8" y2="1213.2" stroke="#ff0000" stroke-width="4" />
<line x1="717.8" y1="1222.8" x2="729.8" y2="1222.8" stroke="#ff0000" stroke-width="4" />
<line x1="781.1" y1="1209.1" x2="781.1" y2="1218.8" stroke="#ff0000" stroke-width="4" />
<line x1="775.1" y1="1209.1" x2="787.1" y2="1209.1" stroke="#ff0000" stroke-width="4" />
<line x1="775.1" y1="1218.8" x2="787.1" y2="1218.8" stroke="#ff0000" stroke-width="4" />
<line x1="838.4" y1="1207.4" x2="838.4" y2="1218.7" stroke="#ff0000" stroke-width="4" />
<line x1="832.4" y1="1207.4" x2="844.4" y2="1207.4" stroke="#ff0000" stroke-width="4" />
<line x1="832.4" y1="1218.7" x2="844.4" y2="1218.7" stroke="#ff0000" stroke-width="4" />
<line x1="895.7" y1="1207.4" x2="895.7" y2="1218.7" stroke="#ff0000" stroke-width="4" />
<line x1="889.7" y1="1207.4" x2="901.7" y2="1207.4" stroke="#ff0000" stroke-width="4" />
<line x1="889.7" y1="1218.7" x2="901.7" y2="1218.7" stroke="#ff0000" stroke-width="4" />
<line x1="953.0" y1="1205.0" x2="953.0" y2="1221.1" stroke="#ff0000" stroke-width="4" />
<line x1="947.0" y1="1205.0" x2="959.0" y2="1205.0" stroke="#ff0000" stroke-width="4" />
<line x1="947.0" y1="1221.1" x2="959.0" y2="1221.1" stroke="#ff0000" stroke-width="4" />
<line x1="1010.3" y1="1178.8" x2="1010.3" y2="1230.1" stroke="#ff0000" stroke-width="4" />
<line x1="1004.3" y1="1178.8" x2="1016.3" y2="1178.8" stroke="#ff0000" stroke-width="4" />
<line x1="1004.3" y1="1230.1" x2="1016.3" y2="1230.1" stroke="#ff0000" stroke-width="4" />
<line x1="454.3" y1="1211.5" x2="477.6" y2="1210.3" stroke="#0000ff" stroke-width="5" />
<line x1="511.5" y1="1208.0" x2="535.0" y2="1206.1" stroke="#0000ff" stroke-width="5" />
<line x1="568.7" y1="1202.0" x2="592.4" y2="1198.4" stroke="#0000ff" stroke-width="5" />
<line x1="625.9" y1="1192.6" x2="649.8" y2="1188.1" stroke="#0000ff" stroke-width="5" />
<line x1="683.0" y1="1181.0" x2="707.3" y2="1175.2" stroke="#0000ff" stroke-width="5" />
<line x1="738.3" y1="1162.3" x2="766.6" y2="1144.7" stroke="#0000ff" stroke-width="5" />
<line x1="797.3" y1="1130.7" x2="822.2" y2="1122.7" stroke="#0000ff" stroke-width="5" />
<line x1="853.9" y1="1110.6" x2="880.2" y2="1098.8" stroke="#0000ff" stroke-width="5" />
<line x1="910.7" y1="1083.7" x2="938.0" y2="1068.9" stroke="#0000ff" stroke-width="5" />
<line x1="966.9" y1="1051.1" x2="996.4" y2="1030.5" stroke="#0000ff" stroke-width="5" />
<line x1="453.8" y1="1208.4" x2="478.1" y2="1202.6" stroke="#ff00ff" stroke-width="5" />
<line x1="510.8" y1="1193.4" x2="535.7" y2="1185.2" stroke="#ff00ff" stroke-width="5" />
<line x1="568.7" y1="1177.1" x2="592.4" y2="1173.1" stroke="#ff00ff" stroke-width="5" />
<line x1="624.8" y1="1163.7" x2="650.9" y2="1152.6" stroke="#ff00ff" stroke-width="5" />
<line x1="682.5" y1="1140.3" x2="707.8" y2="1131.4" stroke="#ff00ff" stroke-width="5" />
<line x1="738.9" y1="1118.0" x2="766.0" y2="1104.1" stroke="#ff00ff" stroke-width="5" />
<line x1="796.2" y1="1088.5" x2="823.3" y2="1074.3" stroke="#ff00ff" stroke-width="5" />
<line x1="851.4" y1="1055.5" x2="882.7" y2="1029.1" stroke="#ff00ff" stroke-width="5" />
<line x1="907.6" y1="1006.0" x2="941.1" y2="971.8" stroke="#ff00ff" stroke-width="5" />
<line x1="962.4" y1="945.4" x2="1000.9" y2="887.2" stroke="#ff00ff" stroke-width="5" />
<line x1="454.3" y1="1228.0" x2="477.6" y2="1228.0" stroke="#ff0000" stroke-width="5" />
<line x1="511.6" y1="1228.0" x2="534.9" y2="1228.0" stroke="#ff0000" stroke-width="5" />
<line x1="568.9" y1="1227.1" x2="592.2" y2="1225.9" stroke="#ff0000" stroke-width="5" />
<line x1="626.2" y1="1223.8" x2="649.5" y2="1222.1" stroke="#ff0000" stroke-width="5" />
<line x1="683.5" y1="1220.1" x2="706.8" y2="1218.9" stroke="#ff0000" stroke-width="5" />
<line x1="740.8" y1="1216.8" x2="764.1" y2="1215.2" stroke="#ff0000" stroke-width="5" />
<line x1="798.1" y1="1213.7" x2="821.4" y2="1213.3" stroke="#ff0000" stroke-width="5" />
<line x1="855.4" y1="1213.0" x2="878.7" y2="1213.0" stroke="#ff0000" stroke-width="5" />
<line x1="912.7" y1="1213.0" x2="936.0" y2="1213.0" stroke="#ff0000" stroke-width="5" />
<line x1="969.8" y1="1210.5" x2="993.5" y2="1207.0" stroke="#ff0000" stroke-width="5" />
<polygon points="425.3,1205.2 449.3,1205.2 437.3,1225.6" fill="#0000ff"/>
<polygon points="482.6,1202.3 506.6,1202.3 494.6,1222.7" fill="#0000ff"/>
<polygon points="539.9,1197.4 563.9,1197.4 551.9,1217.8" fill="#0000ff"/>
<polygon points="597.2,1188.6 621.2,1188.6 609.2,1209.0" fill="#0000ff"/>
<polygon points="654.5,1177.8 678.5,1177.8 666.5,1198.2" fill="#0000ff"/>
<polygon points="711.8,1164.1 735.8,1164.1 723.8,1184.5" fill="#0000ff"/>
<polygon points="769.1,1128.6 793.1,1128.6 781.1,1149.0" fill="#0000ff"/>
<polygon points="826.4,1110.4 850.4,1110.4 838.4,1130.8" fill="#0000ff"/>
<polygon points="883.7,1084.6 907.7,1084.6 895.7,1105.0" fill="#0000ff"/>
<polygon points="941.0,1053.6 965.0,1053.6 953.0,1074.0" fill="#0000ff"/>
<polygon points="998.3,1013.5 1022.3,1013.5 1010.3,1033.9" fill="#0000ff"/>
<polygon points="425.3,1219.6 449.3,1219.6 437.3,1199.2" fill="#ff00ff"/>
<polygon points="482.6,1205.9 506.6,1205.9 494.6,1185.5" fill="#ff00ff"/>
<polygon points="539.9,1187.2 563.9,1187.2 551.9,1166.8" fill="#ff00ff"/>
<polygon points="597.2,1177.5 621.2,1177.5 609.2,1157.1" fill="#ff00ff"/>
<polygon points="654.5,1153.2 678.5,1153.2 666.5,1132.8" fill="#ff00ff"/>
<polygon points="711.8,1133.0 735.8,1133.0 723.8,1112.6" fill="#ff00ff"/>
<polygon points="769.1,1103.5 793.1,1103.5 781.1,1083.1" fill="#ff00ff"/>
<polygon points="826.4,1073.7 850.4,1073.7 838.4,1053.3" fill="#ff00ff"/>
<polygon points="883.7,1025.3 907.7,1025.3 895.7,1004.9" fill="#ff00ff"/>
<polygon points="941.0,966.8 965.0,966.8 953.0,946.4" fill="#ff00ff"/>
<polygon points="998.3,880.2 1022.3,880.2 1010.3,859.8" fill="#ff00ff"/>
<circle cx="437.3" cy="1228.0" r="11.0" fill="#ff0000"/>
<circle cx="494.6" cy="1228.0" r="11.0" fill="#ff0000"/>
<circle cx="551.9" cy="1228.0" r="11.0" fill="#ff0000"/>
<circle cx="609.2" cy="1224.9" r="11.0" fill="#ff0000"/>
<circle cx="666.5" cy="1220.9" r="11.0" fill="#ff0000"/>
<circle cx="723.8" cy="1218.0" r="11.0" fill="#ff0000"/>
<circle cx="781.1" cy="1214.0" r="11.0" fill="#ff0000"/>
<circle cx="838.4" cy="1213.0" r="11.0" fill="#ff0000"/>
<circle cx="895.7" cy="1213.0" r="11.0" fill="#ff0000"/>
<circle cx="953.0" cy="1213.0" r="11.0" fill="#ff0000"/>
<circle cx="1010.3" cy="1204.5" r="11.0" fill="#ff0000"/>
<line x1="387.0" y1="775.0" x2="471.0" y2="775.0" stroke="#ff0000" stroke-width="5" />
<circle cx="427.5" cy="775.0" r="11.0" fill="#ff0000"/>
<line x1="387.0" y1="840.0" x2="414.0" y2="840.0" stroke="#ff00ff" stroke-width="5" />
<line x1="441.0" y1="840.0" x2="471.0" y2="840.0" stroke="#ff00ff" stroke-width="5" />
<polygon points="414.5,847.8 440.5,847.8 427.5,825.7" fill="#ff00ff"/>
<line x1="387.0" y1="906.0" x2="414.0" y2="906.0" stroke="#0000ff" stroke-width="5" />
<line x1="441.0" y1="906.0" x2="471.0" y2="906.0" stroke="#0000ff" stroke-width="5" />
<polygon points="414.5,898.2 440.5,898.2 427.5,920.3" fill="#0000ff"/>
<text x="482.0" y="787.5" font-size="47" font-weight="bold" text-anchor="start" fill="#000" font-family='"Liberation Sans", Arial, sans-serif' textLength="415" lengthAdjust="spacingAndGlyphs" >CyCD+irradiation</text>
<text x="482.0" y="852.0" font-size="47" font-weight="bold" text-anchor="start" fill="#000" font-family='"Liberation Sans", Arial, sans-serif' textLength="135" lengthAdjust="spacingAndGlyphs" >CyCD</text>
<text x="482.0" y="917.5" font-size="47" font-weight="bold" text-anchor="start" fill="#000" font-family='"Liberation Sans", Arial, sans-serif' textLength="150" lengthAdjust="spacingAndGlyphs" >Saline</text>
<text x="101.0" y="987.0" font-size="66" font-weight="normal" text-anchor="middle" fill="#000" font-family='"Liberation Sans", Arial, sans-serif' >(b)</text>
<clipPath id="cpc0"><rect x="1539.5" y="120.5" width="297.5" height="180.5"/></clipPath>
<g clip-path="url(#cpc0)">
<rect x="1539.5" y="120.5" width="297.5" height="180.5" fill="#aadee8"/>
<g transform="translate(1539.5,120.5) scale(0.9983,0.9972)">
<path d="M1,55 C15,45 25,38 35,36 C50,25 65,15 80,12 C100,5 125,2 150,4 C175,8 195,22 210,32 C222,38 232,40 242,42 C255,48 270,65 280,85 C286,100 284,110 282,120 C282,135 283,145 276,148 C265,150 255,145 245,135 C240,128 232,122 228,118 L228,150 C228,155 215,156 212,152 L200,112 C180,108 160,112 140,118 C120,122 95,120 70,115 L58,118 C58,140 56,165 52,172 C48,178 40,175 40,165 L38,140 C36,160 32,178 24,180 C18,180 14,170 16,150 C18,130 22,118 25,110 C20,100 12,90 8,80 C4,72 1,66 1,55 Z" fill="url(#mgrad)" filter="url(#b1)"/>
<g clip-path="url(#mcl)">
<ellipse cx="150" cy="95" rx="80" ry="22" fill="#5e7282" opacity="0.4" filter="url(#b8)"/>
<ellipse cx="255" cy="125" rx="25" ry="25" fill="#a88aa8" opacity="0.6" filter="url(#b6)"/>
<ellipse cx="90" cy="40" rx="40" ry="20" fill="#9a88a8" opacity="0.5" filter="url(#b6)"/>
</g>
<path d="M20,112 L38,112 L36,170 L24,178 Z M42,118 L56,118 L52,168 L44,170 Z" fill="#a890b4" opacity="0.8" filter="url(#b1)"/>
<path d="M205,110 L226,118 L226,150 L214,152 Z" fill="#a890b4" opacity="0.8" filter="url(#b1)"/>
<ellipse cx="249" cy="42" rx="10" ry="24" fill="#6a8a84" transform="rotate(8 249 42)" filter="url(#b1)"/>
<ellipse cx="268" cy="38" rx="14" ry="25" fill="#d4e2d6" transform="rotate(12 268 38)" filter="url(#b1)"/>
<circle cx="56" cy="66" r="16" fill="none" stroke="#c8203e" stroke-width="3"/>
</g></g>
<clipPath id="cpc1"><rect x="1842" y="120" width="302" height="178.5"/></clipPath>
<g clip-path="url(#cpc1)">
<rect x="1842" y="120" width="302" height="178.5" fill="#aadee8"/>
<g transform="translate(1842,120) scale(1.0134,0.9862)">
<path d="M1,55 C15,45 25,38 35,36 C50,25 65,15 80,12 C100,5 125,2 150,4 C175,8 195,22 210,32 C222,38 232,40 242,42 C255,48 270,65 280,85 C286,100 284,110 282,120 C282,135 283,145 276,148 C265,150 255,145 245,135 C240,128 232,122 228,118 L228,150 C228,155 215,156 212,152 L200,112 C180,108 160,112 140,118 C120,122 95,120 70,115 L58,118 C58,140 56,165 52,172 C48,178 40,175 40,165 L38,140 C36,160 32,178 24,180 C18,180 14,170 16,150 C18,130 22,118 25,110 C20,100 12,90 8,80 C4,72 1,66 1,55 Z" fill="url(#mgrad)" filter="url(#b1)"/>
<g clip-path="url(#mcl)">
<ellipse cx="150" cy="95" rx="80" ry="22" fill="#5e7282" opacity="0.4" filter="url(#b8)"/>
<ellipse cx="255" cy="125" rx="25" ry="25" fill="#a88aa8" opacity="0.6" filter="url(#b6)"/>
<ellipse cx="90" cy="40" rx="40" ry="20" fill="#9a88a8" opacity="0.5" filter="url(#b6)"/>
</g>
<path d="M20,112 L38,112 L36,170 L24,178 Z M42,118 L56,118 L52,168 L44,170 Z" fill="#a890b4" opacity="0.8" filter="url(#b1)"/>
<path d="M205,110 L226,118 L226,150 L214,152 Z" fill="#a890b4" opacity="0.8" filter="url(#b1)"/>
<ellipse cx="249" cy="42" rx="10" ry="24" fill="#6a8a84" transform="rotate(8 249 42)" filter="url(#b1)"/>
<ellipse cx="268" cy="38" rx="14" ry="25" fill="#d4e2d6" transform="rotate(12 268 38)" filter="url(#b1)"/>
<ellipse cx="44" cy="64" rx="24" ry="22" fill="#2a0e1c" filter="url(#b3)"/>
<ellipse cx="50" cy="64" rx="40" ry="34" fill="#703050" opacity="0.4" filter="url(#b6)"/>
</g></g>
<clipPath id="cpc2"><rect x="2151" y="125.5" width="291.5" height="169"/></clipPath>
<g clip-path="url(#cpc2)">
<rect x="2151" y="125.5" width="291.5" height="169" fill="#aadee8"/>
<g transform="translate(2151,125.5) scale(0.9782,0.9337)">
<path d="M1,55 C15,45 25,38 35,36 C50,25 65,15 80,12 C100,5 125,2 150,4 C175,8 195,22 210,32 C222,38 232,40 242,42 C255,48 270,65 280,85 C286,100 284,110 282,120 C282,135 283,145 276,148 C265,150 255,145 245,135 C240,128 232,122 228,118 L228,150 C228,155 215,156 212,152 L200,112 C180,108 160,112 140,118 C120,122 95,120 70,115 L58,118 C58,140 56,165 52,172 C48,178 40,175 40,165 L38,140 C36,160 32,178 24,180 C18,180 14,170 16,150 C18,130 22,118 25,110 C20,100 12,90 8,80 C4,72 1,66 1,55 Z" fill="url(#mgrad)" filter="url(#b1)"/>
<g clip-path="url(#mcl)">
<ellipse cx="150" cy="95" rx="80" ry="22" fill="#5e7282" opacity="0.4" filter="url(#b8)"/>
<ellipse cx="255" cy="125" rx="25" ry="25" fill="#a88aa8" opacity="0.6" filter="url(#b6)"/>
<ellipse cx="90" cy="40" rx="40" ry="20" fill="#9a88a8" opacity="0.5" filter="url(#b6)"/>
<ellipse cx="150" cy="60" rx="25" ry="35" fill="#6a70a0" opacity="0.5" filter="url(#b8)"/>
</g>
<path d="M20,112 L38,112 L36,170 L24,178 Z M42,118 L56,118 L52,168 L44,170 Z" fill="#a890b4" opacity="0.8" filter="url(#b1)"/>
<path d="M205,110 L226,118 L226,150 L214,152 Z" fill="#a890b4" opacity="0.8" filter="url(#b1)"/>
<ellipse cx="249" cy="42" rx="10" ry="24" fill="#6a8a84" transform="rotate(8 249 42)" filter="url(#b1)"/>
<ellipse cx="268" cy="38" rx="14" ry="25" fill="#d4e2d6" transform="rotate(12 268 38)" filter="url(#b1)"/>
<ellipse cx="40" cy="70" rx="14" ry="12" fill="#6a3040" opacity="0.7" filter="url(#b3)"/>
</g></g>
<clipPath id="cpc3"><rect x="1539.5" y="307" width="296.5" height="177"/></clipPath>
<g clip-path="url(#cpc3)">
<rect x="1539.5" y="307" width="296.5" height="177" fill="#aadee8"/>
<g transform="translate(1539.5,307) scale(0.9950,0.9779)">
<path d="M1,55 C15,45 25,38 35,36 C50,25 65,15 80,12 C100,5 125,2 150,4 C175,8 195,22 210,32 C222,38 232,40 242,42 C255,48 270,65 280,85 C286,100 284,110 282,120 C282,135 283,145 276,148 C265,150 255,145 245,135 C240,128 232,122 228,118 L228,150 C228,155 215,156 212,152 L200,112 C180,108 160,112 140,118 C120,122 95,120 70,115 L58,118 C58,140 56,165 52,172 C48,178 40,175 40,165 L38,140 C36,160 32,178 24,180 C18,180 14,170 16,150 C18,130 22,118 25,110 C20,100 12,90 8,80 C4,72 1,66 1,55 Z" fill="url(#mgrad)" filter="url(#b1)"/>
<g clip-path="url(#mcl)">
<ellipse cx="150" cy="95" rx="80" ry="22" fill="#5e7282" opacity="0.4" filter="url(#b8)"/>
<ellipse cx="255" cy="125" rx="25" ry="25" fill="#a88aa8" opacity="0.6" filter="url(#b6)"/>
<ellipse cx="90" cy="40" rx="40" ry="20" fill="#9a88a8" opacity="0.5" filter="url(#b6)"/>
</g>
<path d="M20,112 L38,112 L36,170 L24,178 Z M42,118 L56,118 L52,168 L44,170 Z" fill="#a890b4" opacity="0.8" filter="url(#b1)"/>
<path d="M205,110 L226,118 L226,150 L214,152 Z" fill="#a890b4" opacity="0.8" filter="url(#b1)"/>
<ellipse cx="249" cy="42" rx="10" ry="24" fill="#6a8a84" transform="rotate(8 249 42)" filter="url(#b1)"/>
<ellipse cx="268" cy="38" rx="14" ry="25" fill="#d4e2d6" transform="rotate(12 268 38)" filter="url(#b1)"/>
<circle cx="56" cy="66" r="16" fill="none" stroke="#c8203e" stroke-width="3"/>
</g></g>
<clipPath id="cpc4"><rect x="1842" y="306.5" width="302" height="178.5"/></clipPath>
<g clip-path="url(#cpc4)">
<rect x="1842" y="306.5" width="302" height="178.5" fill="#aadee8"/>
<g transform="translate(1842,306.5) scale(1.0134,0.9862)">
<path d="M1,55 C15,45 25,38 35,36 C50,25 65,15 80,12 C100,5 125,2 150,4 C175,8 195,22 210,32 C222,38 232,40 242,42 C255,48 270,65 280,85 C286,100 284,110 282,120 C282,135 283,145 276,148 C265,150 255,145 245,135 C240,128 232,122 228,118 L228,150 C228,155 215,156 212,152 L200,112 C180,108 160,112 140,118 C120,122 95,120 70,115 L58,118 C58,140 56,165 52,172 C48,178 40,175 40,165 L38,140 C36,160 32,178 24,180 C18,180 14,170 16,150 C18,130 22,118 25,110 C20,100 12,90 8,80 C4,72 1,66 1,55 Z" fill="url(#mgrad)" filter="url(#b1)"/>
<g clip-path="url(#mcl)">
<ellipse cx="150" cy="95" rx="80" ry="22" fill="#5e7282" opacity="0.4" filter="url(#b8)"/>
<ellipse cx="255" cy="125" rx="25" ry="25" fill="#a88aa8" opacity="0.6" filter="url(#b6)"/>
<ellipse cx="90" cy="40" rx="40" ry="20" fill="#9a88a8" opacity="0.5" filter="url(#b6)"/>
<ellipse cx="60" cy="75" rx="22" ry="24" fill="#7e4e9a" opacity="0.7" filter="url(#b6)"/>
<ellipse cx="140" cy="70" rx="22" ry="34" fill="#6a6a9e" opacity="0.6" filter="url(#b8)"/>
</g>
<path d="M20,112 L38,112 L36,170 L24,178 Z M42,118 L56,118 L52,168 L44,170 Z" fill="#a890b4" opacity="0.8" filter="url(#b1)"/>
<path d="M205,110 L226,118 L226,150 L214,152 Z" fill="#a890b4" opacity="0.8" filter="url(#b1)"/>
<ellipse cx="249" cy="42" rx="10" ry="24" fill="#6a8a84" transform="rotate(8 249 42)" filter="url(#b1)"/>
<ellipse cx="268" cy="38" rx="14" ry="25" fill="#d4e2d6" transform="rotate(12 268 38)" filter="url(#b1)"/>
</g></g>
<clipPath id="cpc5"><rect x="2151" y="307" width="291.5" height="178"/></clipPath>
<g clip-path="url(#cpc5)">
<rect x="2151" y="307" width="291.5" height="178" fill="#aadee8"/>
<g transform="translate(2151,307) scale(0.9782,0.9834)">
<path d="M1,55 C15,45 25,38 35,36 C50,25 65,15 80,12 C100,5 125,2 150,4 C175,8 195,22 210,32 C222,38 232,40 242,42 C255,48 270,65 280,85 C286,100 284,110 282,120 C282,135 283,145 276,148 C265,150 255,145 245,135 C240,128 232,122 228,118 L228,150 C228,155 215,156 212,152 L200,112 C180,108 160,112 140,118 C120,122 95,120 70,115 L58,118 C58,140 56,165 52,172 C48,178 40,175 40,165 L38,140 C36,160 32,178 24,180 C18,180 14,170 16,150 C18,130 22,118 25,110 C20,100 12,90 8,80 C4,72 1,66 1,55 Z" fill="url(#mgrad)" filter="url(#b1)"/>
<g clip-path="url(#mcl)">
<ellipse cx="150" cy="95" rx="80" ry="22" fill="#5e7282" opacity="0.4" filter="url(#b8)"/>
<ellipse cx="255" cy="125" rx="25" ry="25" fill="#a88aa8" opacity="0.6" filter="url(#b6)"/>
<ellipse cx="90" cy="40" rx="40" ry="20" fill="#9a88a8" opacity="0.5" filter="url(#b6)"/>
<ellipse cx="60" cy="75" rx="22" ry="24" fill="#7e4e9a" opacity="0.7" filter="url(#b6)"/>
<ellipse cx="140" cy="70" rx="22" ry="34" fill="#6a6a9e" opacity="0.6" filter="url(#b8)"/>
</g>
<path d="M20,112 L38,112 L36,170 L24,178 Z M42,118 L56,118 L52,168 L44,170 Z" fill="#a890b4" opacity="0.8" filter="url(#b1)"/>
<path d="M205,110 L226,118 L226,150 L214,152 Z" fill="#a890b4" opacity="0.8" filter="url(#b1)"/>
<ellipse cx="249" cy="42" rx="10" ry="24" fill="#6a8a84" transform="rotate(8 249 42)" filter="url(#b1)"/>
<ellipse cx="268" cy="38" rx="14" ry="25" fill="#d4e2d6" transform="rotate(12 268 38)" filter="url(#b1)"/>
</g></g>
<text x="1652.0" y="97.5" font-size="48" font-weight="normal" text-anchor="middle" fill="#000" font-family='"Liberation Sans", Arial, sans-serif' textLength="120" lengthAdjust="spacingAndGlyphs" >0 day</text>
<text x="1984.5" y="98.0" font-size="56" font-weight="normal" text-anchor="middle" fill="#000" font-family='"Liberation Sans", Arial, sans-serif' textLength="172" lengthAdjust="spacingAndGlyphs" >6 days</text>
<text x="2317.5" y="103.0" font-size="56" font-weight="normal" text-anchor="middle" fill="#000" font-family='"Liberation Sans", Arial, sans-serif' textLength="199" lengthAdjust="spacingAndGlyphs" >16 days</text>
<text transform="translate(1196.0,200.6) scale(1,1.09)" font-size="49" font-weight="normal" text-anchor="start" fill="#000" font-family='"Liberation Sans", Arial, sans-serif' textLength="329" lengthAdjust="spacingAndGlyphs" >C-dots + Laser</text>
<text x="1200.5" y="414.7" font-size="51" font-weight="normal" text-anchor="start" fill="#000" font-family='"Liberation Sans", Arial, sans-serif' textLength="319.5" lengthAdjust="spacingAndGlyphs" >Saline + Laser</text>
<text x="1465.0" y="109.0" font-size="67" font-weight="normal" text-anchor="middle" fill="#000" font-family='"Liberation Sans", Arial, sans-serif' textLength="70" lengthAdjust="spacingAndGlyphs" >(c)</text>
<rect x="1601.5" y="607.5" width="812.5" height="597" fill="none" stroke="#1a2222" stroke-width="5"/>
<line x1="1587.5" y1="1155.7" x2="1601.5" y2="1155.7" stroke="#1a2222" stroke-width="4.5" />
<line x1="1592.5" y1="1081.0" x2="1601.5" y2="1081.0" stroke="#1a2222" stroke-width="4.5" />
<line x1="1587.5" y1="1006.3" x2="1601.5" y2="1006.3" stroke="#1a2222" stroke-width="4.5" />
<line x1="1592.5" y1="931.6" x2="1601.5" y2="931.6" stroke="#1a2222" stroke-width="4.5" />
<line x1="1587.5" y1="856.9" x2="1601.5" y2="856.9" stroke="#1a2222" stroke-width="4.5" />
<line x1="1592.5" y1="782.2" x2="1601.5" y2="782.2" stroke="#1a2222" stroke-width="4.5" />
<line x1="1587.5" y1="707.5" x2="1601.5" y2="707.5" stroke="#1a2222" stroke-width="4.5" />
<line x1="1592.5" y1="632.8" x2="1601.5" y2="632.8" stroke="#1a2222" stroke-width="4.5" />
<text x="1567.0" y="1168.2" font-size="50" font-weight="normal" text-anchor="middle" fill="#000" font-family='"Liberation Sans", Arial, sans-serif' stroke="#000" stroke-width="0.7">0</text>
<text x="1567.0" y="1018.8" font-size="50" font-weight="normal" text-anchor="middle" fill="#000" font-family='"Liberation Sans", Arial, sans-serif' stroke="#000" stroke-width="0.7">3</text>
<text x="1567.0" y="869.4" font-size="50" font-weight="normal" text-anchor="middle" fill="#000" font-family='"Liberation Sans", Arial, sans-serif' stroke="#000" stroke-width="0.7">6</text>
<text x="1567.0" y="720.0" font-size="50" font-weight="normal" text-anchor="middle" fill="#000" font-family='"Liberation Sans", Arial, sans-serif' stroke="#000" stroke-width="0.7">9</text>
<line x1="1639.0" y1="1204.0" x2="1639.0" y2="1218.0" stroke="#1a2222" stroke-width="4.5" />
<line x1="1716.5" y1="1204.0" x2="1716.5" y2="1212.0" stroke="#1a2222" stroke-width="4.5" />
<line x1="1794.0" y1="1204.0" x2="1794.0" y2="1218.0" stroke="#1a2222" stroke-width="4.5" />
<line x1="1871.5" y1="1204.0" x2="1871.5" y2="1212.0" stroke="#1a2222" stroke-width="4.5" />
<line x1="1949.0" y1="1204.0" x2="1949.0" y2="1218.0" stroke="#1a2222" stroke-width="4.5" />
<line x1="2026.5" y1="1204.0" x2="2026.5" y2="1212.0" stroke="#1a2222" stroke-width="4.5" />
<line x1="2104.0" y1="1204.0" x2="2104.0" y2="1218.0" stroke="#1a2222" stroke-width="4.5" />
<line x1="2181.5" y1="1204.0" x2="2181.5" y2="1212.0" stroke="#1a2222" stroke-width="4.5" />
<line x1="2259.0" y1="1204.0" x2="2259.0" y2="1218.0" stroke="#1a2222" stroke-width="4.5" />
<line x1="2336.5" y1="1204.0" x2="2336.5" y2="1212.0" stroke="#1a2222" stroke-width="4.5" />
<line x1="2414.0" y1="1204.0" x2="2414.0" y2="1218.0" stroke="#1a2222" stroke-width="4.5" />
<text x="1639.0" y="1262.5" font-size="49" font-weight="normal" text-anchor="middle" fill="#000" font-family='"Liberation Sans", Arial, sans-serif' stroke="#000" stroke-width="0.7">0</text>
<text x="1794.0" y="1262.5" font-size="49" font-weight="normal" text-anchor="middle" fill="#000" font-family='"Liberation Sans", Arial, sans-serif' stroke="#000" stroke-width="0.7">4</text>
<text x="1949.0" y="1262.5" font-size="49" font-weight="normal" text-anchor="middle" fill="#000" font-family='"Liberation Sans", Arial, sans-serif' stroke="#000" stroke-width="0.7">8</text>
<text x="2104.0" y="1262.5" font-size="49" font-weight="normal" text-anchor="middle" fill="#000" font-family='"Liberation Sans", Arial, sans-serif' stroke="#000" stroke-width="0.7">12</text>
<text x="2259.0" y="1262.5" font-size="49" font-weight="normal" text-anchor="middle" fill="#000" font-family='"Liberation Sans", Arial, sans-serif' stroke="#000" stroke-width="0.7">16</text>
<text x="2414.0" y="1262.5" font-size="49" font-weight="normal" text-anchor="middle" fill="#000" font-family='"Liberation Sans", Arial, sans-serif' stroke="#000" stroke-width="0.7">20</text>
<text x="2030.0" y="1340.0" font-size="52" font-weight="normal" text-anchor="middle" fill="#000" font-family='"Liberation Sans", Arial, sans-serif' >Day</text>
<text transform="translate(1503,987) rotate(-90)" font-size="66" font-family='"Liberation Sans", Arial, sans-serif' fill="#000">V/V<tspan font-size="44" dy="16">0</tspan></text>
<line x1="1639.0" y1="1103.4" x2="1639.0" y2="1108.4" stroke="#111111" stroke-width="4" />
<line x1="1632.0" y1="1103.4" x2="1646.0" y2="1103.4" stroke="#111111" stroke-width="4" />
<line x1="1632.0" y1="1108.4" x2="1646.0" y2="1108.4" stroke="#111111" stroke-width="4" />
<line x1="1716.5" y1="1066.1" x2="1716.5" y2="1095.9" stroke="#111111" stroke-width="4" />
<line x1="1709.5" y1="1066.1" x2="1723.5" y2="1066.1" stroke="#111111" stroke-width="4" />
<line x1="1709.5" y1="1095.9" x2="1723.5" y2="1095.9" stroke="#111111" stroke-width="4" />
<line x1="1794.0" y1="1038.7" x2="1794.0" y2="1093.5" stroke="#111111" stroke-width="4" />
<line x1="1787.0" y1="1038.7" x2="1801.0" y2="1038.7" stroke="#111111" stroke-width="4" />
<line x1="1787.0" y1="1093.5" x2="1801.0" y2="1093.5" stroke="#111111" stroke-width="4" />
<line x1="1871.5" y1="1023.7" x2="1871.5" y2="1043.7" stroke="#111111" stroke-width="4" />
<line x1="1864.5" y1="1023.7" x2="1878.5" y2="1023.7" stroke="#111111" stroke-width="4" />
<line x1="1864.5" y1="1043.7" x2="1878.5" y2="1043.7" stroke="#111111" stroke-width="4" />
<line x1="1949.0" y1="978.9" x2="1949.0" y2="1048.6" stroke="#111111" stroke-width="4" />
<line x1="1942.0" y1="978.9" x2="1956.0" y2="978.9" stroke="#111111" stroke-width="4" />
<line x1="1942.0" y1="1048.6" x2="1956.0" y2="1048.6" stroke="#111111" stroke-width="4" />
<line x1="2026.5" y1="911.7" x2="2026.5" y2="1001.3" stroke="#111111" stroke-width="4" />
<line x1="2019.5" y1="911.7" x2="2033.5" y2="911.7" stroke="#111111" stroke-width="4" />
<line x1="2019.5" y1="1001.3" x2="2033.5" y2="1001.3" stroke="#111111" stroke-width="4" />
<line x1="2104.0" y1="894.2" x2="2104.0" y2="924.1" stroke="#111111" stroke-width="4" />
<line x1="2097.0" y1="894.2" x2="2111.0" y2="894.2" stroke="#111111" stroke-width="4" />
<line x1="2097.0" y1="924.1" x2="2111.0" y2="924.1" stroke="#111111" stroke-width="4" />
<line x1="2181.5" y1="812.1" x2="2181.5" y2="931.6" stroke="#111111" stroke-width="4" />
<line x1="2174.5" y1="812.1" x2="2188.5" y2="812.1" stroke="#111111" stroke-width="4" />
<line x1="2174.5" y1="931.6" x2="2188.5" y2="931.6" stroke="#111111" stroke-width="4" />
<line x1="2259.0" y1="727.4" x2="2259.0" y2="856.9" stroke="#111111" stroke-width="4" />
<line x1="2252.0" y1="727.4" x2="2266.0" y2="727.4" stroke="#111111" stroke-width="4" />
<line x1="2252.0" y1="856.9" x2="2266.0" y2="856.9" stroke="#111111" stroke-width="4" />
<line x1="2336.5" y1="662.7" x2="2336.5" y2="762.3" stroke="#111111" stroke-width="4" />
<line x1="2329.5" y1="662.7" x2="2343.5" y2="662.7" stroke="#111111" stroke-width="4" />
<line x1="2329.5" y1="762.3" x2="2343.5" y2="762.3" stroke="#111111" stroke-width="4" />
<line x1="1639.0" y1="1103.4" x2="1639.0" y2="1108.4" stroke="#2222ee" stroke-width="4" />
<line x1="1632.0" y1="1103.4" x2="1646.0" y2="1103.4" stroke="#2222ee" stroke-width="4" />
<line x1="1632.0" y1="1108.4" x2="1646.0" y2="1108.4" stroke="#2222ee" stroke-width="4" />
<line x1="1716.5" y1="1076.0" x2="1716.5" y2="1115.9" stroke="#2222ee" stroke-width="4" />
<line x1="1709.5" y1="1076.0" x2="1723.5" y2="1076.0" stroke="#2222ee" stroke-width="4" />
<line x1="1709.5" y1="1115.9" x2="1723.5" y2="1115.9" stroke="#2222ee" stroke-width="4" />
<line x1="1794.0" y1="1051.1" x2="1794.0" y2="1115.9" stroke="#2222ee" stroke-width="4" />
<line x1="1787.0" y1="1051.1" x2="1801.0" y2="1051.1" stroke="#2222ee" stroke-width="4" />
<line x1="1787.0" y1="1115.9" x2="1801.0" y2="1115.9" stroke="#2222ee" stroke-width="4" />
<line x1="1871.5" y1="1048.6" x2="1871.5" y2="1083.5" stroke="#2222ee" stroke-width="4" />
<line x1="1864.5" y1="1048.6" x2="1878.5" y2="1048.6" stroke="#2222ee" stroke-width="4" />
<line x1="1864.5" y1="1083.5" x2="1878.5" y2="1083.5" stroke="#2222ee" stroke-width="4" />
<line x1="1949.0" y1="993.9" x2="1949.0" y2="1078.5" stroke="#2222ee" stroke-width="4" />
<line x1="1942.0" y1="993.9" x2="1956.0" y2="993.9" stroke="#2222ee" stroke-width="4" />
<line x1="1942.0" y1="1078.5" x2="1956.0" y2="1078.5" stroke="#2222ee" stroke-width="4" />
<line x1="2026.5" y1="973.9" x2="2026.5" y2="1048.6" stroke="#2222ee" stroke-width="4" />
<line x1="2019.5" y1="973.9" x2="2033.5" y2="973.9" stroke="#2222ee" stroke-width="4" />
<line x1="2019.5" y1="1048.6" x2="2033.5" y2="1048.6" stroke="#2222ee" stroke-width="4" />
<line x1="2104.0" y1="946.5" x2="2104.0" y2="986.4" stroke="#2222ee" stroke-width="4" />
<line x1="2097.0" y1="946.5" x2="2111.0" y2="946.5" stroke="#2222ee" stroke-width="4" />
<line x1="2097.0" y1="986.4" x2="2111.0" y2="986.4" stroke="#2222ee" stroke-width="4" />
<line x1="2181.5" y1="854.4" x2="2181.5" y2="964.0" stroke="#2222ee" stroke-width="4" />
<line x1="2174.5" y1="854.4" x2="2188.5" y2="854.4" stroke="#2222ee" stroke-width="4" />
<line x1="2174.5" y1="964.0" x2="2188.5" y2="964.0" stroke="#2222ee" stroke-width="4" />
<line x1="2259.0" y1="802.1" x2="2259.0" y2="901.7" stroke="#2222ee" stroke-width="4" />
<line x1="2252.0" y1="802.1" x2="2266.0" y2="802.1" stroke="#2222ee" stroke-width="4" />
<line x1="2252.0" y1="901.7" x2="2266.0" y2="901.7" stroke="#2222ee" stroke-width="4" />
<line x1="2336.5" y1="697.5" x2="2336.5" y2="817.1" stroke="#2222ee" stroke-width="4" />
<line x1="2329.5" y1="697.5" x2="2343.5" y2="697.5" stroke="#2222ee" stroke-width="4" />
<line x1="2329.5" y1="817.1" x2="2343.5" y2="817.1" stroke="#2222ee" stroke-width="4" />
<line x1="1639.0" y1="1103.4" x2="1639.0" y2="1108.4" stroke="#e01428" stroke-width="4" />
<line x1="1632.0" y1="1103.4" x2="1646.0" y2="1103.4" stroke="#e01428" stroke-width="4" />
<line x1="1632.0" y1="1108.4" x2="1646.0" y2="1108.4" stroke="#e01428" stroke-width="4" />
<line x1="1716.5" y1="1115.9" x2="1716.5" y2="1125.8" stroke="#e01428" stroke-width="4" />
<line x1="1709.5" y1="1115.9" x2="1723.5" y2="1115.9" stroke="#e01428" stroke-width="4" />
<line x1="1709.5" y1="1125.8" x2="1723.5" y2="1125.8" stroke="#e01428" stroke-width="4" />
<line x1="1794.0" y1="1120.8" x2="1794.0" y2="1130.8" stroke="#e01428" stroke-width="4" />
<line x1="1787.0" y1="1120.8" x2="1801.0" y2="1120.8" stroke="#e01428" stroke-width="4" />
<line x1="1787.0" y1="1130.8" x2="1801.0" y2="1130.8" stroke="#e01428" stroke-width="4" />
<line x1="1871.5" y1="1125.8" x2="1871.5" y2="1140.8" stroke="#e01428" stroke-width="4" />
<line x1="1864.5" y1="1125.8" x2="1878.5" y2="1125.8" stroke="#e01428" stroke-width="4" />
<line x1="1864.5" y1="1140.8" x2="1878.5" y2="1140.8" stroke="#e01428" stroke-width="4" />
<line x1="1949.0" y1="1129.3" x2="1949.0" y2="1137.3" stroke="#e01428" stroke-width="4" />
<line x1="1942.0" y1="1129.3" x2="1956.0" y2="1129.3" stroke="#e01428" stroke-width="4" />
<line x1="1942.0" y1="1137.3" x2="1956.0" y2="1137.3" stroke="#e01428" stroke-width="4" />
<line x1="2026.5" y1="1137.8" x2="2026.5" y2="1143.7" stroke="#e01428" stroke-width="4" />
<line x1="2019.5" y1="1137.8" x2="2033.5" y2="1137.8" stroke="#e01428" stroke-width="4" />
<line x1="2019.5" y1="1143.7" x2="2033.5" y2="1143.7" stroke="#e01428" stroke-width="4" />
<line x1="2104.0" y1="1145.7" x2="2104.0" y2="1150.7" stroke="#e01428" stroke-width="4" />
<line x1="2097.0" y1="1145.7" x2="2111.0" y2="1145.7" stroke="#e01428" stroke-width="4" />
<line x1="2097.0" y1="1150.7" x2="2111.0" y2="1150.7" stroke="#e01428" stroke-width="4" />
<line x1="2181.5" y1="1145.7" x2="2181.5" y2="1150.7" stroke="#e01428" stroke-width="4" />
<line x1="2174.5" y1="1145.7" x2="2188.5" y2="1145.7" stroke="#e01428" stroke-width="4" />
<line x1="2174.5" y1="1150.7" x2="2188.5" y2="1150.7" stroke="#e01428" stroke-width="4" />
<line x1="2259.0" y1="1148.2" x2="2259.0" y2="1153.2" stroke="#e01428" stroke-width="4" />
<line x1="2252.0" y1="1148.2" x2="2266.0" y2="1148.2" stroke="#e01428" stroke-width="4" />
<line x1="2252.0" y1="1153.2" x2="2266.0" y2="1153.2" stroke="#e01428" stroke-width="4" />
<line x1="2336.5" y1="1148.2" x2="2336.5" y2="1153.2" stroke="#e01428" stroke-width="4" />
<line x1="2329.5" y1="1148.2" x2="2343.5" y2="1148.2" stroke="#e01428" stroke-width="4" />
<line x1="2329.5" y1="1153.2" x2="2343.5" y2="1153.2" stroke="#e01428" stroke-width="4" />
<polyline points="1639.0,1105.9 1716.5,1120.8 1794.0,1125.8 1871.5,1133.3 1949.0,1133.3 2026.5,1140.8 2104.0,1148.2 2181.5,1148.2 2259.0,1150.7 2336.5,1150.7" fill="none" stroke="#e01428" stroke-width="5.5" stroke-linejoin="round" />
<polyline points="1639.0,1105.9 1716.5,1095.9 1794.0,1083.5 1871.5,1066.1 1949.0,1036.2 2026.5,1011.3 2104.0,966.5 2181.5,909.2 2259.0,851.9 2336.5,757.3" fill="none" stroke="#2222ee" stroke-width="5" stroke-linejoin="round" />
<polyline points="1639.0,1105.9 1716.5,1081.0 1794.0,1066.1 1871.5,1033.7 1949.0,1013.8 2026.5,956.5 2104.0,909.2 2181.5,871.8 2259.0,792.2 2336.5,712.5" fill="none" stroke="#111111" stroke-width="5" stroke-linejoin="round" />
<circle cx="1639.0" cy="1105.9" r="8.0" fill="#ff1020"/>
<circle cx="1716.5" cy="1120.8" r="8.0" fill="#ff1020"/>
<circle cx="1794.0" cy="1125.8" r="8.0" fill="#ff1020"/>
<circle cx="1871.5" cy="1133.3" r="8.0" fill="#ff1020"/>
<circle cx="1949.0" cy="1133.3" r="8.0" fill="#ff1020"/>
<circle cx="2026.5" cy="1140.8" r="8.0" fill="#ff1020"/>
<circle cx="2104.0" cy="1148.2" r="8.0" fill="#ff1020"/>
<circle cx="2181.5" cy="1148.2" r="8.0" fill="#ff1020"/>
<circle cx="2259.0" cy="1150.7" r="8.0" fill="#ff1020"/>
<circle cx="2336.5" cy="1150.7" r="8.0" fill="#ff1020"/>
<polygon points="1632.0,1110.1 1646.0,1110.1 1639.0,1098.2" fill="#2222ee"/>
<polygon points="1709.5,1100.1 1723.5,1100.1 1716.5,1088.2" fill="#2222ee"/>
<polygon points="1787.0,1087.7 1801.0,1087.7 1794.0,1075.8" fill="#2222ee"/>
<polygon points="1864.5,1070.3 1878.5,1070.3 1871.5,1058.4" fill="#2222ee"/>
<polygon points="1942.0,1040.4 1956.0,1040.4 1949.0,1028.5" fill="#2222ee"/>
<polygon points="2019.5,1015.5 2033.5,1015.5 2026.5,1003.6" fill="#2222ee"/>
<polygon points="2097.0,970.7 2111.0,970.7 2104.0,958.8" fill="#2222ee"/>
<polygon points="2174.5,913.4 2188.5,913.4 2181.5,901.5" fill="#2222ee"/>
<polygon points="2252.0,856.1 2266.0,856.1 2259.0,844.2" fill="#2222ee"/>
<polygon points="2329.5,761.5 2343.5,761.5 2336.5,749.6" fill="#2222ee"/>
<circle cx="1639.0" cy="1105.9" r="6.0" fill="#111111"/>
<circle cx="1716.5" cy="1081.0" r="6.0" fill="#111111"/>
<circle cx="1794.0" cy="1066.1" r="6.0" fill="#111111"/>
<circle cx="1871.5" cy="1033.7" r="6.0" fill="#111111"/>
<circle cx="1949.0" cy="1013.8" r="6.0" fill="#111111"/>
<circle cx="2026.5" cy="956.5" r="6.0" fill="#111111"/>
<circle cx="2104.0" cy="909.2" r="6.0" fill="#111111"/>
<circle cx="2181.5" cy="871.8" r="6.0" fill="#111111"/>
<circle cx="2259.0" cy="792.2" r="6.0" fill="#111111"/>
<circle cx="2336.5" cy="712.5" r="6.0" fill="#111111"/>
<line x1="1698.0" y1="714.5" x2="1786.0" y2="714.5" stroke="#111111" stroke-width="7" stroke-linecap="round"/>
<circle cx="1742.0" cy="714.5" r="7.0" fill="#111111"/>
<line x1="1698.0" y1="762.0" x2="1786.0" y2="762.0" stroke="#2222ee" stroke-width="7" stroke-linecap="round"/>
<polygon points="1736.0,765.6 1748.0,765.6 1742.0,755.4" fill="#2222ee"/>
<line x1="1698.0" y1="808.0" x2="1786.0" y2="808.0" stroke="#d01838" stroke-width="7" stroke-linecap="round"/>
<circle cx="1742.0" cy="808.0" r="8.0" fill="#ff0010"/>
<text x="1794.0" y="728.0" font-size="38" font-weight="bold" text-anchor="start" fill="#000" font-family='"Liberation Sans", Arial, sans-serif' >C1</text>
<text x="1794.0" y="775.5" font-size="38" font-weight="bold" text-anchor="start" fill="#000" font-family='"Liberation Sans", Arial, sans-serif' >C2</text>
<text x="1794.0" y="820.0" font-size="38" font-weight="bold" text-anchor="start" fill="#000" font-family='"Liberation Sans", Arial, sans-serif' >PTT</text>
<text x="1467.0" y="712.0" font-size="66" font-weight="normal" text-anchor="middle" fill="#000" font-family='"Liberation Sans", Arial, sans-serif' textLength="76" lengthAdjust="spacingAndGlyphs" >(d)</text>
<clipPath id="cpe0"><polygon points="150,1560.5 327,1560.5 327,1945.5 101.5,1945.5 101.5,1607.5 150,1607.5"/></clipPath>
<g clip-path="url(#cpe0)">
<rect x="101.5" y="1560.5" width="225.5" height="385.0" fill="#686864"/>
<g filter="url(#b3)">
<rect x="95" y="1600" width="42" height="350" fill="#c6c6c2"/>
<path d="M226,1630 C245,1700 238,1800 234,1880 L266,1890 L266,1630 Z" fill="#3c3c3a"/>
<rect x="150" y="1555" width="116" height="20" fill="#141414"/>
<ellipse cx="108" cy="1660" rx="6" ry="10" fill="#c89a8a"/>
</g>
<path d="M152,1568 L250,1568 C256,1610 252,1650 249,1680 C240,1720 228,1760 230,1810 C234,1850 250,1880 260,1905 C262,1925 255,1940 250,1955 L142,1955 C132,1920 128,1880 126,1850 C120,1800 118,1760 120,1720 C122,1680 124,1640 130,1610 C135,1590 142,1578 152,1568 Z" fill="#dcdeda" filter="url(#fur)"/>
<path d="M152,1568 L250,1568 C256,1610 252,1650 249,1680 C240,1720 228,1760 230,1810 C234,1850 250,1880 260,1905 C262,1925 255,1940 250,1955 L142,1955 C132,1920 128,1880 126,1850 C120,1800 118,1760 120,1720 C122,1680 124,1640 130,1610 C135,1590 142,1578 152,1568 Z" fill="#000" filter="url(#furtex)"/>
<ellipse cx="150" cy="1720" rx="25" ry="120" fill="#c4c4c0" opacity="0.5" filter="url(#b8)"/>
<g filter="url(#b3)">
<ellipse cx="167" cy="1588" rx="12" ry="14" fill="#dcb4ac"/><ellipse cx="223" cy="1594" rx="12" ry="14" fill="#d4a6a4"/>
<ellipse cx="179" cy="1766" rx="44" ry="99" fill="#b78b90"/>
<ellipse cx="178" cy="1812" rx="14" ry="15" fill="#cf7478"/>
</g>
<rect x="265" y="1560.5" width="6.5" height="385.0" fill="#2c2d2a"/>
<rect x="271.5" y="1560.5" width="54.5" height="385.0" fill="#0e22aa"/>
<rect x="271.5" y="1560.5" width="16.3" height="385.0" fill="#1430b0"/>
<line x1="286.8" y1="1560.5" x2="286.8" y2="1945.5" stroke="#6a80c8" stroke-width="2.5"/>
<line x1="293.3" y1="1560.5" x2="293.3" y2="1945.5" stroke="#687c52" stroke-width="4.5"/>
<polygon points="293.3,1584.5 302.3,1592.5 293.3,1598.5" fill="#a8ae28"/>
<line x1="274.8" y1="1591.5" x2="282.4" y2="1591.5" stroke="#3a56c8" stroke-width="1.5"/>
<text transform="translate(309.6,1600.5) rotate(90)" font-size="11" fill="#4a66dc" font-family='"Liberation Sans", Arial, sans-serif'>10</text>
<polygon points="293.3,1625.5 302.3,1633.5 293.3,1639.5" fill="#a8ae28"/>
<line x1="274.8" y1="1632.5" x2="282.4" y2="1632.5" stroke="#3a56c8" stroke-width="1.5"/>
<text transform="translate(309.6,1641.5) rotate(90)" font-size="11" fill="#4a66dc" font-family='"Liberation Sans", Arial, sans-serif'>20</text>
<polygon points="293.3,1666.5 302.3,1674.5 293.3,1680.5" fill="#a8ae28"/>
<line x1="274.8" y1="1673.5" x2="282.4" y2="1673.5" stroke="#3a56c8" stroke-width="1.5"/>
<text transform="translate(309.6,1682.5) rotate(90)" font-size="11" fill="#4a66dc" font-family='"Liberation Sans", Arial, sans-serif'>30</text>
<polygon points="293.3,1707.5 302.3,1715.5 293.3,1721.5" fill="#a8ae28"/>
<line x1="274.8" y1="1714.5" x2="282.4" y2="1714.5" stroke="#3a56c8" stroke-width="1.5"/>
<text transform="translate(309.6,1723.5) rotate(90)" font-size="11" fill="#4a66dc" font-family='"Liberation Sans", Arial, sans-serif'>40</text>
<polygon points="293.3,1748.5 302.3,1756.5 293.3,1762.5" fill="#a8ae28"/>
<line x1="274.8" y1="1755.5" x2="282.4" y2="1755.5" stroke="#3a56c8" stroke-width="1.5"/>
<text transform="translate(309.6,1764.5) rotate(90)" font-size="11" fill="#4a66dc" font-family='"Liberation Sans", Arial, sans-serif'>50</text>
<polygon points="293.3,1789.5 302.3,1797.5 293.3,1803.5" fill="#a8ae28"/>
<line x1="274.8" y1="1796.5" x2="282.4" y2="1796.5" stroke="#3a56c8" stroke-width="1.5"/>
<text transform="translate(309.6,1805.5) rotate(90)" font-size="11" fill="#4a66dc" font-family='"Liberation Sans", Arial, sans-serif'>60</text>
<polygon points="293.3,1830.5 302.3,1838.5 293.3,1844.5" fill="#a8ae28"/>
<line x1="274.8" y1="1837.5" x2="282.4" y2="1837.5" stroke="#3a56c8" stroke-width="1.5"/>
<text transform="translate(309.6,1846.5) rotate(90)" font-size="11" fill="#4a66dc" font-family='"Liberation Sans", Arial, sans-serif'>70</text>
<polygon points="293.3,1871.5 302.3,1879.5 293.3,1885.5" fill="#a8ae28"/>
<line x1="274.8" y1="1878.5" x2="282.4" y2="1878.5" stroke="#3a56c8" stroke-width="1.5"/>
<text transform="translate(309.6,1887.5) rotate(90)" font-size="11" fill="#4a66dc" font-family='"Liberation Sans", Arial, sans-serif'>80</text>
<polygon points="293.3,1912.5 302.3,1920.5 293.3,1926.5" fill="#a8ae28"/>
<line x1="274.8" y1="1919.5" x2="282.4" y2="1919.5" stroke="#3a56c8" stroke-width="1.5"/>
<text transform="translate(309.6,1928.5) rotate(90)" font-size="11" fill="#4a66dc" font-family='"Liberation Sans", Arial, sans-serif'>90</text>
<rect x="326" y="1560.5" width="1" height="385.0" fill="#50575a"/>
</g>
<clipPath id="cpe1"><rect x="334" y="1560.5" width="265.5" height="385.0"/></clipPath>
<g clip-path="url(#cpe1)">
<rect x="334" y="1560.5" width="265.5" height="385.0" fill="#6c6b66"/>
<g filter="url(#b3)">
<rect x="462" y="1600" width="68" height="350" fill="#878781"/>
<path d="M334,1560 L398,1560 L388,1720 L334,1770 Z" fill="#3a3a38"/>
</g>
<path d="M380,1605 L478,1605 C478,1640 474,1680 468,1720 C468,1770 478,1810 487,1850 C495,1880 492,1905 475,1925 C462,1940 452,1950 440,1955 L412,1955 C395,1935 375,1915 365,1895 C350,1870 342,1850 346,1820 C352,1790 358,1760 360,1720 C364,1680 372,1640 380,1605 Z" fill="#dcdeda" filter="url(#fur)"/>
<path d="M380,1605 L478,1605 C478,1640 474,1680 468,1720 C468,1770 478,1810 487,1850 C495,1880 492,1905 475,1925 C462,1940 452,1950 440,1955 L412,1955 C395,1935 375,1915 365,1895 C350,1870 342,1850 346,1820 C352,1790 358,1760 360,1720 C364,1680 372,1640 380,1605 Z" fill="#000" filter="url(#furtex)"/>
<g filter="url(#b3)">
<path d="M378,1556 L508,1556 C505,1588 492,1610 470,1614 L402,1614 C386,1608 378,1588 378,1556 Z" fill="#e6d2ca"/>
<line x1="444" y1="1560" x2="444" y2="1612" stroke="#c8b4ac" stroke-width="2"/>
<ellipse cx="414" cy="1758" rx="41" ry="86" fill="#c7a1a7"/>
<path d="M486,1872 L515,1866 L532,1880 L500,1890 Z" fill="#d4aaa2"/>
</g>
<rect x="529" y="1560.5" width="10.5" height="385.0" fill="#2c2d2a"/>
<rect x="539.5" y="1560.5" width="51.5" height="385.0" fill="#0e22aa"/>
<rect x="539.5" y="1560.5" width="15.4" height="385.0" fill="#1430b0"/>
<line x1="553.9" y1="1560.5" x2="553.9" y2="1945.5" stroke="#6a80c8" stroke-width="2.5"/>
<line x1="560.1" y1="1560.5" x2="560.1" y2="1945.5" stroke="#687c52" stroke-width="4.5"/>
<polygon points="560.1,1575.0 569.1,1583.0 560.1,1589.0" fill="#a8ae28"/>
<line x1="542.6" y1="1582.0" x2="549.8" y2="1582.0" stroke="#3a56c8" stroke-width="1.5"/>
<text transform="translate(575.5,1591.0) rotate(90)" font-size="11" fill="#4a66dc" font-family='"Liberation Sans", Arial, sans-serif'>10</text>
<polygon points="560.1,1614.6 569.1,1622.6 560.1,1628.6" fill="#a8ae28"/>
<line x1="542.6" y1="1621.6" x2="549.8" y2="1621.6" stroke="#3a56c8" stroke-width="1.5"/>
<text transform="translate(575.5,1630.6) rotate(90)" font-size="11" fill="#4a66dc" font-family='"Liberation Sans", Arial, sans-serif'>20</text>
<polygon points="560.1,1654.2 569.1,1662.2 560.1,1668.2" fill="#a8ae28"/>
<line x1="542.6" y1="1661.2" x2="549.8" y2="1661.2" stroke="#3a56c8" stroke-width="1.5"/>
<text transform="translate(575.5,1670.2) rotate(90)" font-size="11" fill="#4a66dc" font-family='"Liberation Sans", Arial, sans-serif'>30</text>
<polygon points="560.1,1693.8 569.1,1701.8 560.1,1707.8" fill="#a8ae28"/>
<line x1="542.6" y1="1700.8" x2="549.8" y2="1700.8" stroke="#3a56c8" stroke-width="1.5"/>
<text transform="translate(575.5,1709.8) rotate(90)" font-size="11" fill="#4a66dc" font-family='"Liberation Sans", Arial, sans-serif'>40</text>
<polygon points="560.1,1733.4 569.1,1741.4 560.1,1747.4" fill="#a8ae28"/>
<line x1="542.6" y1="1740.4" x2="549.8" y2="1740.4" stroke="#3a56c8" stroke-width="1.5"/>
<text transform="translate(575.5,1749.4) rotate(90)" font-size="11" fill="#4a66dc" font-family='"Liberation Sans", Arial, sans-serif'>50</text>
<polygon points="560.1,1773.0 569.1,1781.0 560.1,1787.0" fill="#a8ae28"/>
<line x1="542.6" y1="1780.0" x2="549.8" y2="1780.0" stroke="#3a56c8" stroke-width="1.5"/>
<text transform="translate(575.5,1789.0) rotate(90)" font-size="11" fill="#4a66dc" font-family='"Liberation Sans", Arial, sans-serif'>60</text>
<polygon points="560.1,1812.6 569.1,1820.6 560.1,1826.6" fill="#a8ae28"/>
<line x1="542.6" y1="1819.6" x2="549.8" y2="1819.6" stroke="#3a56c8" stroke-width="1.5"/>
<text transform="translate(575.5,1828.6) rotate(90)" font-size="11" fill="#4a66dc" font-family='"Liberation Sans", Arial, sans-serif'>70</text>
<polygon points="560.1,1852.2 569.1,1860.2 560.1,1866.2" fill="#a8ae28"/>
<line x1="542.6" y1="1859.2" x2="549.8" y2="1859.2" stroke="#3a56c8" stroke-width="1.5"/>
<text transform="translate(575.5,1868.2) rotate(90)" font-size="11" fill="#4a66dc" font-family='"Liberation Sans", Arial, sans-serif'>80</text>
<polygon points="560.1,1891.8 569.1,1899.8 560.1,1905.8" fill="#a8ae28"/>
<line x1="542.6" y1="1898.8" x2="549.8" y2="1898.8" stroke="#3a56c8" stroke-width="1.5"/>
<text transform="translate(575.5,1907.8) rotate(90)" font-size="11" fill="#4a66dc" font-family='"Liberation Sans", Arial, sans-serif'>90</text>
<polygon points="560.1,1931.4 569.1,1939.4 560.1,1945.4" fill="#a8ae28"/>
<line x1="542.6" y1="1938.4" x2="549.8" y2="1938.4" stroke="#3a56c8" stroke-width="1.5"/>
<text transform="translate(575.5,1947.4) rotate(90)" font-size="11" fill="#4a66dc" font-family='"Liberation Sans", Arial, sans-serif'>100</text>
<rect x="591" y="1560.5" width="8.5" height="385.0" fill="#50575a"/>
</g>
<clipPath id="cpe2"><rect x="609" y="1560.5" width="247" height="385.0"/></clipPath>
<g clip-path="url(#cpe2)">
<rect x="609" y="1560.5" width="247" height="385.0" fill="#70706b"/>
<g filter="url(#b3)">
<path d="M609,1560 L650,1560 L640,1660 L609,1680 Z" fill="#363632"/>
<rect x="742" y="1620" width="52" height="330" fill="#86867f"/>
</g>
<path d="M634,1608 L752,1608 C750,1640 745,1670 740,1700 C735,1730 735,1760 738,1800 C742,1840 738,1870 728,1895 C722,1920 715,1940 708,1955 L660,1955 C645,1930 630,1900 622,1870 C614,1840 615,1800 622,1770 C626,1740 628,1710 628,1690 C628,1660 630,1630 634,1608 Z" fill="#dcdeda" filter="url(#fur)"/>
<path d="M634,1608 L752,1608 C750,1640 745,1670 740,1700 C735,1730 735,1760 738,1800 C742,1840 738,1870 728,1895 C722,1920 715,1940 708,1955 L660,1955 C645,1930 630,1900 622,1870 C614,1840 615,1800 622,1770 C626,1740 628,1710 628,1690 C628,1660 630,1630 634,1608 Z" fill="#000" filter="url(#furtex)"/>
<g filter="url(#b3)">
<path d="M630,1556 L760,1556 C760,1588 750,1610 728,1614 L652,1614 C636,1608 630,1590 630,1556 Z" fill="#e8dcd4"/>
<line x1="700" y1="1560" x2="700" y2="1612" stroke="#d0c0b8" stroke-width="2"/>
<path d="M740,1700 L770,1684 L792,1668 L795,1690 L770,1700 L745,1712 Z" fill="#e0c8c0"/>
<path d="M735,1838 L772,1830 L790,1845 L785,1872 L750,1878 Z" fill="#a8888a"/>
<ellipse cx="677" cy="1815" rx="55" ry="78" fill="#dbc7cf"/>
<ellipse cx="667" cy="1826" rx="35" ry="31" fill="#d24a5a"/>
<ellipse cx="675" cy="1828" rx="12" ry="11" fill="#3a2a28"/>
</g>
<rect x="792" y="1560.5" width="7.5" height="385.0" fill="#2c2d2a"/>
<rect x="799.5" y="1560.5" width="56.0" height="385.0" fill="#0e22aa"/>
<rect x="799.5" y="1560.5" width="16.8" height="385.0" fill="#1430b0"/>
<line x1="815.2" y1="1560.5" x2="815.2" y2="1945.5" stroke="#6a80c8" stroke-width="2.5"/>
<line x1="821.9" y1="1560.5" x2="821.9" y2="1945.5" stroke="#687c52" stroke-width="4.5"/>
<polygon points="821.9,1589.8 830.9,1597.8 821.9,1603.8" fill="#a8ae28"/>
<line x1="802.9" y1="1596.8" x2="810.7" y2="1596.8" stroke="#3a56c8" stroke-width="1.5"/>
<text transform="translate(838.7,1605.8) rotate(90)" font-size="11" fill="#4a66dc" font-family='"Liberation Sans", Arial, sans-serif'>10</text>
<polygon points="821.9,1630.3 830.9,1638.3 821.9,1644.3" fill="#a8ae28"/>
<line x1="802.9" y1="1637.3" x2="810.7" y2="1637.3" stroke="#3a56c8" stroke-width="1.5"/>
<text transform="translate(838.7,1646.3) rotate(90)" font-size="11" fill="#4a66dc" font-family='"Liberation Sans", Arial, sans-serif'>20</text>
<polygon points="821.9,1670.8 830.9,1678.8 821.9,1684.8" fill="#a8ae28"/>
<line x1="802.9" y1="1677.8" x2="810.7" y2="1677.8" stroke="#3a56c8" stroke-width="1.5"/>
<text transform="translate(838.7,1686.8) rotate(90)" font-size="11" fill="#4a66dc" font-family='"Liberation Sans", Arial, sans-serif'>30</text>
<polygon points="821.9,1711.3 830.9,1719.3 821.9,1725.3" fill="#a8ae28"/>
<line x1="802.9" y1="1718.3" x2="810.7" y2="1718.3" stroke="#3a56c8" stroke-width="1.5"/>
<text transform="translate(838.7,1727.3) rotate(90)" font-size="11" fill="#4a66dc" font-family='"Liberation Sans", Arial, sans-serif'>40</text>
<polygon points="821.9,1751.8 830.9,1759.8 821.9,1765.8" fill="#a8ae28"/>
<line x1="802.9" y1="1758.8" x2="810.7" y2="1758.8" stroke="#3a56c8" stroke-width="1.5"/>
<text transform="translate(838.7,1767.8) rotate(90)" font-size="11" fill="#4a66dc" font-family='"Liberation Sans", Arial, sans-serif'>50</text>
<polygon points="821.9,1792.3 830.9,1800.3 821.9,1806.3" fill="#a8ae28"/>
<line x1="802.9" y1="1799.3" x2="810.7" y2="1799.3" stroke="#3a56c8" stroke-width="1.5"/>
<text transform="translate(838.7,1808.3) rotate(90)" font-size="11" fill="#4a66dc" font-family='"Liberation Sans", Arial, sans-serif'>60</text>
<polygon points="821.9,1832.8 830.9,1840.8 821.9,1846.8" fill="#a8ae28"/>
<line x1="802.9" y1="1839.8" x2="810.7" y2="1839.8" stroke="#3a56c8" stroke-width="1.5"/>
<text transform="translate(838.7,1848.8) rotate(90)" font-size="11" fill="#4a66dc" font-family='"Liberation Sans", Arial, sans-serif'>70</text>
<polygon points="821.9,1873.3 830.9,1881.3 821.9,1887.3" fill="#a8ae28"/>
<line x1="802.9" y1="1880.3" x2="810.7" y2="1880.3" stroke="#3a56c8" stroke-width="1.5"/>
<text transform="translate(838.7,1889.3) rotate(90)" font-size="11" fill="#4a66dc" font-family='"Liberation Sans", Arial, sans-serif'>80</text>
<polygon points="821.9,1913.8 830.9,1921.8 821.9,1927.8" fill="#a8ae28"/>
<line x1="802.9" y1="1920.8" x2="810.7" y2="1920.8" stroke="#3a56c8" stroke-width="1.5"/>
<text transform="translate(838.7,1929.8) rotate(90)" font-size="11" fill="#4a66dc" font-family='"Liberation Sans", Arial, sans-serif'>90</text>
<rect x="855.5" y="1560.5" width="0.5" height="385.0" fill="#50575a"/>
</g>
<clipPath id="cpe3"><rect x="866.5" y="1560.5" width="259.5" height="385.0"/></clipPath>
<g clip-path="url(#cpe3)">
<rect x="866.5" y="1560.5" width="259.5" height="385.0" fill="#7a7a75"/>
<g filter="url(#b3)">
<path d="M866,1560 L938,1560 L930,1605 L866,1615 Z" fill="#3a3a38"/>
<path d="M866,1800 L935,1830 L990,1890 L866,1892 Z" fill="#4c4c4a"/>
<path d="M866,1886 C930,1880 1000,1885 1040,1950 L866,1950 Z" fill="#b2a690"/>
<rect x="1030" y="1600" width="40" height="350" fill="#838079"/>
</g>
<path d="M935,1605 L1035,1605 C1036,1650 1034,1690 1038,1730 C1045,1770 1055,1810 1062,1845 C1062,1870 1055,1885 1045,1895 L1000,1905 L950,1900 C935,1880 922,1850 915,1820 C912,1780 918,1740 925,1700 C928,1660 930,1630 935,1605 Z" fill="#dcdeda" filter="url(#fur)"/>
<path d="M935,1605 L1035,1605 C1036,1650 1034,1690 1038,1730 C1045,1770 1055,1810 1062,1845 C1062,1870 1055,1885 1045,1895 L1000,1905 L950,1900 C935,1880 922,1850 915,1820 C912,1780 918,1740 925,1700 C928,1660 930,1630 935,1605 Z" fill="#000" filter="url(#furtex)"/>
<g filter="url(#b3)">
<path d="M938,1556 L1032,1556 C1030,1588 1020,1606 1000,1608 L955,1608 C942,1602 938,1588 938,1556 Z" fill="#e8dcd4"/>
<path d="M866,1805 L895,1810 L915,1830 L900,1840 L866,1830 Z" fill="#b49894"/>
<path d="M1045,1830 L1068,1818 L1072,1835 L1050,1848 Z" fill="#c8aca8"/>
<ellipse cx="974" cy="1767" rx="60" ry="70" fill="#c4b4c8"/>
<ellipse cx="980" cy="1762" rx="31" ry="38" fill="#d44e5e"/>
<ellipse cx="988" cy="1775" rx="8" ry="8" fill="#3a2a28"/>
<path d="M1000,1900 C998,1920 995,1935 990,1946" stroke="#5a4a44" stroke-width="3" fill="none"/>
</g>
<rect x="1069" y="1560.5" width="7" height="385.0" fill="#2c2d2a"/>
<rect x="1076" y="1560.5" width="48.5" height="385.0" fill="#0e22aa"/>
<rect x="1076" y="1560.5" width="14.5" height="385.0" fill="#1430b0"/>
<line x1="1089.6" y1="1560.5" x2="1089.6" y2="1945.5" stroke="#6a80c8" stroke-width="2.5"/>
<line x1="1095.4" y1="1560.5" x2="1095.4" y2="1945.5" stroke="#687c52" stroke-width="4.5"/>
<polygon points="1095.4,1586.7 1104.4,1594.7 1095.4,1600.7" fill="#a8ae28"/>
<line x1="1078.9" y1="1593.7" x2="1085.7" y2="1593.7" stroke="#3a56c8" stroke-width="1.5"/>
<text transform="translate(1110.0,1602.7) rotate(90)" font-size="11" fill="#4a66dc" font-family='"Liberation Sans", Arial, sans-serif'>10</text>
<polygon points="1095.4,1623.7 1104.4,1631.7 1095.4,1637.7" fill="#a8ae28"/>
<line x1="1078.9" y1="1630.7" x2="1085.7" y2="1630.7" stroke="#3a56c8" stroke-width="1.5"/>
<text transform="translate(1110.0,1639.7) rotate(90)" font-size="11" fill="#4a66dc" font-family='"Liberation Sans", Arial, sans-serif'>20</text>
<polygon points="1095.4,1660.7 1104.4,1668.7 1095.4,1674.7" fill="#a8ae28"/>
<line x1="1078.9" y1="1667.7" x2="1085.7" y2="1667.7" stroke="#3a56c8" stroke-width="1.5"/>
<text transform="translate(1110.0,1676.7) rotate(90)" font-size="11" fill="#4a66dc" font-family='"Liberation Sans", Arial, sans-serif'>30</text>
<polygon points="1095.4,1697.7 1104.4,1705.7 1095.4,1711.7" fill="#a8ae28"/>
<line x1="1078.9" y1="1704.7" x2="1085.7" y2="1704.7" stroke="#3a56c8" stroke-width="1.5"/>
<text transform="translate(1110.0,1713.7) rotate(90)" font-size="11" fill="#4a66dc" font-family='"Liberation Sans", Arial, sans-serif'>40</text>
<polygon points="1095.4,1734.7 1104.4,1742.7 1095.4,1748.7" fill="#a8ae28"/>
<line x1="1078.9" y1="1741.7" x2="1085.7" y2="1741.7" stroke="#3a56c8" stroke-width="1.5"/>
<text transform="translate(1110.0,1750.7) rotate(90)" font-size="11" fill="#4a66dc" font-family='"Liberation Sans", Arial, sans-serif'>50</text>
<polygon points="1095.4,1771.7 1104.4,1779.7 1095.4,1785.7" fill="#a8ae28"/>
<line x1="1078.9" y1="1778.7" x2="1085.7" y2="1778.7" stroke="#3a56c8" stroke-width="1.5"/>
<text transform="translate(1110.0,1787.7) rotate(90)" font-size="11" fill="#4a66dc" font-family='"Liberation Sans", Arial, sans-serif'>60</text>
<polygon points="1095.4,1808.7 1104.4,1816.7 1095.4,1822.7" fill="#a8ae28"/>
<line x1="1078.9" y1="1815.7" x2="1085.7" y2="1815.7" stroke="#3a56c8" stroke-width="1.5"/>
<text transform="translate(1110.0,1824.7) rotate(90)" font-size="11" fill="#4a66dc" font-family='"Liberation Sans", Arial, sans-serif'>70</text>
<polygon points="1095.4,1845.7 1104.4,1853.7 1095.4,1859.7" fill="#a8ae28"/>
<line x1="1078.9" y1="1852.7" x2="1085.7" y2="1852.7" stroke="#3a56c8" stroke-width="1.5"/>
<text transform="translate(1110.0,1861.7) rotate(90)" font-size="11" fill="#4a66dc" font-family='"Liberation Sans", Arial, sans-serif'>80</text>
<polygon points="1095.4,1882.7 1104.4,1890.7 1095.4,1896.7" fill="#a8ae28"/>
<line x1="1078.9" y1="1889.7" x2="1085.7" y2="1889.7" stroke="#3a56c8" stroke-width="1.5"/>
<text transform="translate(1110.0,1898.7) rotate(90)" font-size="11" fill="#4a66dc" font-family='"Liberation Sans", Arial, sans-serif'>90</text>
<polygon points="1095.4,1919.7 1104.4,1927.7 1095.4,1933.7" fill="#a8ae28"/>
<line x1="1078.9" y1="1926.7" x2="1085.7" y2="1926.7" stroke="#3a56c8" stroke-width="1.5"/>
<text transform="translate(1110.0,1935.7) rotate(90)" font-size="11" fill="#4a66dc" font-family='"Liberation Sans", Arial, sans-serif'>100</text>
<rect x="1124.5" y="1560.5" width="1.5" height="385.0" fill="#50575a"/>
</g>
<clipPath id="cpe4"><rect x="1134.5" y="1560.5" width="282.5" height="382.0"/></clipPath>
<g clip-path="url(#cpe4)">
<rect x="1134.5" y="1560.5" width="282.5" height="382.0" fill="#72726c"/>
<g filter="url(#b3)">
<rect x="1280" y="1600" width="65" height="340" fill="#83837d"/>
<rect x="1134" y="1620" width="30" height="40" fill="#4a4038"/>
</g>
<path d="M1190,1600 L1265,1600 C1268,1640 1266,1670 1265,1700 C1275,1740 1285,1780 1290,1810 C1300,1850 1310,1880 1312,1905 C1305,1925 1290,1935 1260,1940 L1190,1938 C1172,1910 1165,1880 1158,1850 C1150,1810 1150,1760 1157,1710 C1165,1670 1178,1630 1190,1600 Z" fill="#dcdeda" filter="url(#fur)"/>
<path d="M1190,1600 L1265,1600 C1268,1640 1266,1670 1265,1700 C1275,1740 1285,1780 1290,1810 C1300,1850 1310,1880 1312,1905 C1305,1925 1290,1935 1260,1940 L1190,1938 C1172,1910 1165,1880 1158,1850 C1150,1810 1150,1760 1157,1710 C1165,1670 1178,1630 1190,1600 Z" fill="#000" filter="url(#furtex)"/>
<g filter="url(#b3)">
<path d="M1130,1556 L1232,1556 C1232,1600 1225,1630 1200,1634 L1150,1634 C1136,1625 1130,1600 1130,1556 Z" fill="#e0d6ce"/>
<path d="M1262,1632 L1310,1594 L1322,1602 L1272,1652 Z" fill="#dcc4bc"/>
<path d="M1295,1915 L1335,1910 L1340,1935 L1298,1938 Z" fill="#d6bab2"/>
<ellipse cx="1224" cy="1754" rx="45" ry="108" fill="#cfbbc5"/>
<ellipse cx="1235" cy="1788" rx="28" ry="38" fill="#c93848"/>
<ellipse cx="1242" cy="1802" rx="7" ry="8" fill="#3a2a28"/>
</g>
<rect x="1343" y="1560.5" width="7" height="382.0" fill="#2c2d2a"/>
<rect x="1350" y="1560.5" width="60" height="382.0" fill="#0e22aa"/>
<rect x="1350" y="1560.5" width="18.0" height="382.0" fill="#1430b0"/>
<line x1="1366.8" y1="1560.5" x2="1366.8" y2="1942.5" stroke="#6a80c8" stroke-width="2.5"/>
<line x1="1374.0" y1="1560.5" x2="1374.0" y2="1942.5" stroke="#687c52" stroke-width="4.5"/>
<polygon points="1374.0,1585.6 1383.0,1593.6 1374.0,1599.6" fill="#a8ae28"/>
<line x1="1353.6" y1="1592.6" x2="1362.0" y2="1592.6" stroke="#3a56c8" stroke-width="1.5"/>
<text transform="translate(1392.0,1601.6) rotate(90)" font-size="11" fill="#4a66dc" font-family='"Liberation Sans", Arial, sans-serif'>10</text>
<polygon points="1374.0,1625.9 1383.0,1633.9 1374.0,1639.9" fill="#a8ae28"/>
<line x1="1353.6" y1="1632.9" x2="1362.0" y2="1632.9" stroke="#3a56c8" stroke-width="1.5"/>
<text transform="translate(1392.0,1641.9) rotate(90)" font-size="11" fill="#4a66dc" font-family='"Liberation Sans", Arial, sans-serif'>20</text>
<polygon points="1374.0,1666.2 1383.0,1674.2 1374.0,1680.2" fill="#a8ae28"/>
<line x1="1353.6" y1="1673.2" x2="1362.0" y2="1673.2" stroke="#3a56c8" stroke-width="1.5"/>
<text transform="translate(1392.0,1682.2) rotate(90)" font-size="11" fill="#4a66dc" font-family='"Liberation Sans", Arial, sans-serif'>30</text>
<polygon points="1374.0,1706.5 1383.0,1714.5 1374.0,1720.5" fill="#a8ae28"/>
<line x1="1353.6" y1="1713.5" x2="1362.0" y2="1713.5" stroke="#3a56c8" stroke-width="1.5"/>
<text transform="translate(1392.0,1722.5) rotate(90)" font-size="11" fill="#4a66dc" font-family='"Liberation Sans", Arial, sans-serif'>40</text>
<polygon points="1374.0,1746.8 1383.0,1754.8 1374.0,1760.8" fill="#a8ae28"/>
<line x1="1353.6" y1="1753.8" x2="1362.0" y2="1753.8" stroke="#3a56c8" stroke-width="1.5"/>
<text transform="translate(1392.0,1762.8) rotate(90)" font-size="11" fill="#4a66dc" font-family='"Liberation Sans", Arial, sans-serif'>50</text>
<polygon points="1374.0,1787.1 1383.0,1795.1 1374.0,1801.1" fill="#a8ae28"/>
<line x1="1353.6" y1="1794.1" x2="1362.0" y2="1794.1" stroke="#3a56c8" stroke-width="1.5"/>
<text transform="translate(1392.0,1803.1) rotate(90)" font-size="11" fill="#4a66dc" font-family='"Liberation Sans", Arial, sans-serif'>60</text>
<polygon points="1374.0,1827.4 1383.0,1835.4 1374.0,1841.4" fill="#a8ae28"/>
<line x1="1353.6" y1="1834.4" x2="1362.0" y2="1834.4" stroke="#3a56c8" stroke-width="1.5"/>
<text transform="translate(1392.0,1843.4) rotate(90)" font-size="11" fill="#4a66dc" font-family='"Liberation Sans", Arial, sans-serif'>70</text>
<polygon points="1374.0,1867.7 1383.0,1875.7 1374.0,1881.7" fill="#a8ae28"/>
<line x1="1353.6" y1="1874.7" x2="1362.0" y2="1874.7" stroke="#3a56c8" stroke-width="1.5"/>
<text transform="translate(1392.0,1883.7) rotate(90)" font-size="11" fill="#4a66dc" font-family='"Liberation Sans", Arial, sans-serif'>80</text>
<polygon points="1374.0,1908.0 1383.0,1916.0 1374.0,1922.0" fill="#a8ae28"/>
<line x1="1353.6" y1="1915.0" x2="1362.0" y2="1915.0" stroke="#3a56c8" stroke-width="1.5"/>
<text transform="translate(1392.0,1924.0) rotate(90)" font-size="11" fill="#4a66dc" font-family='"Liberation Sans", Arial, sans-serif'>90</text>
<rect x="1410" y="1560.5" width="7" height="382.0" fill="#50575a"/>
</g>
<text x="185.5" y="1997.5" font-size="45" font-weight="normal" text-anchor="middle" fill="#000" font-family='"Liberation Sans", Arial, sans-serif' textLength="138" lengthAdjust="spacingAndGlyphs" >Before</text>
<text x="430.0" y="1997.5" font-size="45" font-weight="normal" text-anchor="middle" fill="#000" font-family='"Liberation Sans", Arial, sans-serif' textLength="241" lengthAdjust="spacingAndGlyphs" >CDs + Laser</text>
<text x="703.0" y="1997.5" font-size="45" font-weight="normal" text-anchor="middle" fill="#000" font-family='"Liberation Sans", Arial, sans-serif' textLength="78" lengthAdjust="spacingAndGlyphs" >CDs</text>
<text x="970.0" y="1997.5" font-size="45" font-weight="normal" text-anchor="middle" fill="#000" font-family='"Liberation Sans", Arial, sans-serif' textLength="110" lengthAdjust="spacingAndGlyphs" >Laser</text>
<text x="1248.5" y="1997.5" font-size="45" font-weight="normal" text-anchor="middle" fill="#000" font-family='"Liberation Sans", Arial, sans-serif' textLength="125" lengthAdjust="spacingAndGlyphs" >Saline</text>
<text x="740.0" y="1533.0" font-size="64" font-weight="normal" text-anchor="middle" fill="#000" font-family='"Liberation Sans", Arial, sans-serif' textLength="76" lengthAdjust="spacingAndGlyphs" >(e)</text>
<rect x="1642" y="1456.5" width="778" height="573.5" fill="none" stroke="#707070" stroke-width="4"/>
<line x1="1633.0" y1="1995.5" x2="1642.0" y2="1995.5" stroke="#707070" stroke-width="3.5" />
<line x1="1633.0" y1="1941.6" x2="1642.0" y2="1941.6" stroke="#707070" stroke-width="3.5" />
<line x1="1633.0" y1="1887.7" x2="1642.0" y2="1887.7" stroke="#707070" stroke-width="3.5" />
<line x1="1633.0" y1="1833.8" x2="1642.0" y2="1833.8" stroke="#707070" stroke-width="3.5" />
<line x1="1633.0" y1="1779.9" x2="1642.0" y2="1779.9" stroke="#707070" stroke-width="3.5" />
<line x1="1633.0" y1="1726.0" x2="1642.0" y2="1726.0" stroke="#707070" stroke-width="3.5" />
<line x1="1633.0" y1="1672.1" x2="1642.0" y2="1672.1" stroke="#707070" stroke-width="3.5" />
<line x1="1633.0" y1="1618.2" x2="1642.0" y2="1618.2" stroke="#707070" stroke-width="3.5" />
<line x1="1633.0" y1="1564.3" x2="1642.0" y2="1564.3" stroke="#707070" stroke-width="3.5" />
<line x1="1633.0" y1="1510.4" x2="1642.0" y2="1510.4" stroke="#707070" stroke-width="3.5" />
<text x="1596.0" y="2014.5" font-size="53" font-weight="normal" text-anchor="middle" fill="#000" font-family='"Liberation Sans", Arial, sans-serif' >0.0</text>
<text x="1596.0" y="1906.7" font-size="53" font-weight="normal" text-anchor="middle" fill="#000" font-family='"Liberation Sans", Arial, sans-serif' >0.3</text>
<text x="1596.0" y="1798.9" font-size="53" font-weight="normal" text-anchor="middle" fill="#000" font-family='"Liberation Sans", Arial, sans-serif' >0.6</text>
<text x="1596.0" y="1691.1" font-size="53" font-weight="normal" text-anchor="middle" fill="#000" font-family='"Liberation Sans", Arial, sans-serif' >0.9</text>
<text x="1596.0" y="1583.3" font-size="53" font-weight="normal" text-anchor="middle" fill="#000" font-family='"Liberation Sans", Arial, sans-serif' >1.2</text>
<text x="1596.0" y="1475.5" font-size="53" font-weight="normal" text-anchor="middle" fill="#000" font-family='"Liberation Sans", Arial, sans-serif' >1.5</text>
<line x1="1642.3" y1="2030.0" x2="1642.3" y2="2039.0" stroke="#707070" stroke-width="3.5" />
<line x1="1715.2" y1="2030.0" x2="1715.2" y2="2035.0" stroke="#707070" stroke-width="3.5" />
<line x1="1788.2" y1="2030.0" x2="1788.2" y2="2039.0" stroke="#707070" stroke-width="3.5" />
<line x1="1861.1" y1="2030.0" x2="1861.1" y2="2035.0" stroke="#707070" stroke-width="3.5" />
<line x1="1934.0" y1="2030.0" x2="1934.0" y2="2039.0" stroke="#707070" stroke-width="3.5" />
<line x1="2006.9" y1="2030.0" x2="2006.9" y2="2035.0" stroke="#707070" stroke-width="3.5" />
<line x1="2079.9" y1="2030.0" x2="2079.9" y2="2039.0" stroke="#707070" stroke-width="3.5" />
<line x1="2152.8" y1="2030.0" x2="2152.8" y2="2035.0" stroke="#707070" stroke-width="3.5" />
<line x1="2225.7" y1="2030.0" x2="2225.7" y2="2039.0" stroke="#707070" stroke-width="3.5" />
<line x1="2298.7" y1="2030.0" x2="2298.7" y2="2035.0" stroke="#707070" stroke-width="3.5" />
<line x1="2371.6" y1="2030.0" x2="2371.6" y2="2039.0" stroke="#707070" stroke-width="3.5" />
<text x="1645.5" y="2094.5" font-size="53" font-weight="normal" text-anchor="middle" fill="#000" font-family='"Liberation Sans", Arial, sans-serif' >0</text>
<text x="1785.0" y="2094.5" font-size="53" font-weight="normal" text-anchor="middle" fill="#000" font-family='"Liberation Sans", Arial, sans-serif' >3</text>
<text x="1939.0" y="2094.5" font-size="53" font-weight="normal" text-anchor="middle" fill="#000" font-family='"Liberation Sans", Arial, sans-serif' >6</text>
<text x="2080.0" y="2094.5" font-size="53" font-weight="normal" text-anchor="middle" fill="#000" font-family='"Liberation Sans", Arial, sans-serif' >9</text>
<text x="2237.0" y="2094.5" font-size="53" font-weight="normal" text-anchor="middle" fill="#000" font-family='"Liberation Sans", Arial, sans-serif' >12</text>
<text x="2379.0" y="2094.5" font-size="53" font-weight="normal" text-anchor="middle" fill="#000" font-family='"Liberation Sans", Arial, sans-serif' >15</text>
<text x="2018.0" y="2143.5" font-size="53" font-weight="normal" text-anchor="middle" fill="#000" font-family='"Liberation Sans", Arial, sans-serif' >Day</text>
<text transform="translate(1518,1726.5) rotate(-90)" font-size="53" text-anchor="middle" font-family='"Liberation Sans", Arial, sans-serif' fill="#000" textLength="330" lengthAdjust="spacingAndGlyphs">Volume (mm<tspan font-size="34" dy="-20">3</tspan><tspan dy="20">)</tspan></text>
<line x1="1690.9" y1="1959.6" x2="1690.9" y2="1981.1" stroke="#1a1a1a" stroke-width="3.5" />
<line x1="1683.9" y1="1959.6" x2="1697.9" y2="1959.6" stroke="#1a1a1a" stroke-width="3.5" />
<line x1="1683.9" y1="1981.1" x2="1697.9" y2="1981.1" stroke="#1a1a1a" stroke-width="3.5" />
<line x1="1788.2" y1="1927.2" x2="1788.2" y2="1963.2" stroke="#1a1a1a" stroke-width="3.5" />
<line x1="1781.2" y1="1927.2" x2="1795.2" y2="1927.2" stroke="#1a1a1a" stroke-width="3.5" />
<line x1="1781.2" y1="1963.2" x2="1795.2" y2="1963.2" stroke="#1a1a1a" stroke-width="3.5" />
<line x1="1885.4" y1="1905.7" x2="1885.4" y2="1948.8" stroke="#1a1a1a" stroke-width="3.5" />
<line x1="1878.4" y1="1905.7" x2="1892.4" y2="1905.7" stroke="#1a1a1a" stroke-width="3.5" />
<line x1="1878.4" y1="1948.8" x2="1892.4" y2="1948.8" stroke="#1a1a1a" stroke-width="3.5" />
<line x1="1982.6" y1="1855.4" x2="1982.6" y2="1927.2" stroke="#1a1a1a" stroke-width="3.5" />
<line x1="1975.6" y1="1855.4" x2="1989.6" y2="1855.4" stroke="#1a1a1a" stroke-width="3.5" />
<line x1="1975.6" y1="1927.2" x2="1989.6" y2="1927.2" stroke="#1a1a1a" stroke-width="3.5" />
<line x1="2079.9" y1="1812.3" x2="2079.9" y2="1912.9" stroke="#1a1a1a" stroke-width="3.5" />
<line x1="2072.9" y1="1812.3" x2="2086.9" y2="1812.3" stroke="#1a1a1a" stroke-width="3.5" />
<line x1="2072.9" y1="1912.9" x2="2086.9" y2="1912.9" stroke="#1a1a1a" stroke-width="3.5" />
<line x1="2177.1" y1="1758.4" x2="2177.1" y2="1894.9" stroke="#1a1a1a" stroke-width="3.5" />
<line x1="2170.1" y1="1758.4" x2="2184.1" y2="1758.4" stroke="#1a1a1a" stroke-width="3.5" />
<line x1="2170.1" y1="1894.9" x2="2184.1" y2="1894.9" stroke="#1a1a1a" stroke-width="3.5" />
<line x1="2274.4" y1="1612.8" x2="2274.4" y2="1875.1" stroke="#1a1a1a" stroke-width="3.5" />
<line x1="2267.4" y1="1612.8" x2="2281.4" y2="1612.8" stroke="#1a1a1a" stroke-width="3.5" />
<line x1="2267.4" y1="1875.1" x2="2281.4" y2="1875.1" stroke="#1a1a1a" stroke-width="3.5" />
<line x1="2371.6" y1="1515.8" x2="2371.6" y2="1828.4" stroke="#1a1a1a" stroke-width="3.5" />
<line x1="2364.6" y1="1515.8" x2="2378.6" y2="1515.8" stroke="#1a1a1a" stroke-width="3.5" />
<line x1="2364.6" y1="1828.4" x2="2378.6" y2="1828.4" stroke="#1a1a1a" stroke-width="3.5" />
<line x1="1690.9" y1="1966.8" x2="1690.9" y2="1981.1" stroke="#c83a3a" stroke-width="3.5" />
<line x1="1683.9" y1="1966.8" x2="1697.9" y2="1966.8" stroke="#c83a3a" stroke-width="3.5" />
<line x1="1683.9" y1="1981.1" x2="1697.9" y2="1981.1" stroke="#c83a3a" stroke-width="3.5" />
<line x1="1788.2" y1="1961.4" x2="1788.2" y2="1975.7" stroke="#c83a3a" stroke-width="3.5" />
<line x1="1781.2" y1="1961.4" x2="1795.2" y2="1961.4" stroke="#c83a3a" stroke-width="3.5" />
<line x1="1781.2" y1="1975.7" x2="1795.2" y2="1975.7" stroke="#c83a3a" stroke-width="3.5" />
<line x1="1885.4" y1="1965.0" x2="1885.4" y2="1979.3" stroke="#c83a3a" stroke-width="3.5" />
<line x1="1878.4" y1="1965.0" x2="1892.4" y2="1965.0" stroke="#c83a3a" stroke-width="3.5" />
<line x1="1878.4" y1="1979.3" x2="1892.4" y2="1979.3" stroke="#c83a3a" stroke-width="3.5" />
<line x1="1982.6" y1="1909.3" x2="1982.6" y2="1995.5" stroke="#c83a3a" stroke-width="3.5" />
<line x1="1975.6" y1="1909.3" x2="1989.6" y2="1909.3" stroke="#c83a3a" stroke-width="3.5" />
<line x1="1975.6" y1="1995.5" x2="1989.6" y2="1995.5" stroke="#c83a3a" stroke-width="3.5" />
<line x1="2079.9" y1="1956.0" x2="2079.9" y2="1988.3" stroke="#c83a3a" stroke-width="3.5" />
<line x1="2072.9" y1="1956.0" x2="2086.9" y2="1956.0" stroke="#c83a3a" stroke-width="3.5" />
<line x1="2072.9" y1="1988.3" x2="2086.9" y2="1988.3" stroke="#c83a3a" stroke-width="3.5" />
<line x1="2177.1" y1="1952.4" x2="2177.1" y2="1984.7" stroke="#c83a3a" stroke-width="3.5" />
<line x1="2170.1" y1="1952.4" x2="2184.1" y2="1952.4" stroke="#c83a3a" stroke-width="3.5" />
<line x1="2170.1" y1="1984.7" x2="2184.1" y2="1984.7" stroke="#c83a3a" stroke-width="3.5" />
<line x1="2274.4" y1="1945.2" x2="2274.4" y2="1995.5" stroke="#c83a3a" stroke-width="3.5" />
<line x1="2267.4" y1="1945.2" x2="2281.4" y2="1945.2" stroke="#c83a3a" stroke-width="3.5" />
<line x1="2267.4" y1="1995.5" x2="2281.4" y2="1995.5" stroke="#c83a3a" stroke-width="3.5" />
<line x1="2371.6" y1="1941.6" x2="2371.6" y2="2002.7" stroke="#c83a3a" stroke-width="3.5" />
<line x1="2364.6" y1="1941.6" x2="2378.6" y2="1941.6" stroke="#c83a3a" stroke-width="3.5" />
<line x1="2364.6" y1="2002.7" x2="2378.6" y2="2002.7" stroke="#c83a3a" stroke-width="3.5" />
<line x1="1690.9" y1="1952.4" x2="1690.9" y2="1973.9" stroke="#2b2ba8" stroke-width="3.5" />
<line x1="1683.9" y1="1952.4" x2="1697.9" y2="1952.4" stroke="#2b2ba8" stroke-width="3.5" />
<line x1="1683.9" y1="1973.9" x2="1697.9" y2="1973.9" stroke="#2b2ba8" stroke-width="3.5" />
<line x1="1788.2" y1="1923.6" x2="1788.2" y2="1959.6" stroke="#2b2ba8" stroke-width="3.5" />
<line x1="1781.2" y1="1923.6" x2="1795.2" y2="1923.6" stroke="#2b2ba8" stroke-width="3.5" />
<line x1="1781.2" y1="1959.6" x2="1795.2" y2="1959.6" stroke="#2b2ba8" stroke-width="3.5" />
<line x1="1885.4" y1="1884.1" x2="1885.4" y2="1948.8" stroke="#2b2ba8" stroke-width="3.5" />
<line x1="1878.4" y1="1884.1" x2="1892.4" y2="1884.1" stroke="#2b2ba8" stroke-width="3.5" />
<line x1="1878.4" y1="1948.8" x2="1892.4" y2="1948.8" stroke="#2b2ba8" stroke-width="3.5" />
<line x1="1982.6" y1="1844.6" x2="1982.6" y2="1930.8" stroke="#2b2ba8" stroke-width="3.5" />
<line x1="1975.6" y1="1844.6" x2="1989.6" y2="1844.6" stroke="#2b2ba8" stroke-width="3.5" />
<line x1="1975.6" y1="1930.8" x2="1989.6" y2="1930.8" stroke="#2b2ba8" stroke-width="3.5" />
<line x1="2079.9" y1="1747.6" x2="2079.9" y2="1912.9" stroke="#2b2ba8" stroke-width="3.5" />
<line x1="2072.9" y1="1747.6" x2="2086.9" y2="1747.6" stroke="#2b2ba8" stroke-width="3.5" />
<line x1="2072.9" y1="1912.9" x2="2086.9" y2="1912.9" stroke="#2b2ba8" stroke-width="3.5" />
<line x1="2177.1" y1="1697.3" x2="2177.1" y2="1869.7" stroke="#2b2ba8" stroke-width="3.5" />
<line x1="2170.1" y1="1697.3" x2="2184.1" y2="1697.3" stroke="#2b2ba8" stroke-width="3.5" />
<line x1="2170.1" y1="1869.7" x2="2184.1" y2="1869.7" stroke="#2b2ba8" stroke-width="3.5" />
<line x1="2274.4" y1="1623.6" x2="2274.4" y2="1821.2" stroke="#2b2ba8" stroke-width="3.5" />
<line x1="2267.4" y1="1623.6" x2="2281.4" y2="1623.6" stroke="#2b2ba8" stroke-width="3.5" />
<line x1="2267.4" y1="1821.2" x2="2281.4" y2="1821.2" stroke="#2b2ba8" stroke-width="3.5" />
<line x1="2371.6" y1="1553.6" x2="2371.6" y2="1769.1" stroke="#2b2ba8" stroke-width="3.5" />
<line x1="2364.6" y1="1553.6" x2="2378.6" y2="1553.6" stroke="#2b2ba8" stroke-width="3.5" />
<line x1="2364.6" y1="1769.1" x2="2378.6" y2="1769.1" stroke="#2b2ba8" stroke-width="3.5" />
<line x1="1690.9" y1="1956.0" x2="1690.9" y2="1977.5" stroke="#2a7a70" stroke-width="3.5" />
<line x1="1683.9" y1="1956.0" x2="1697.9" y2="1956.0" stroke="#2a7a70" stroke-width="3.5" />
<line x1="1683.9" y1="1977.5" x2="1697.9" y2="1977.5" stroke="#2a7a70" stroke-width="3.5" />
<line x1="1788.2" y1="1920.0" x2="1788.2" y2="1963.2" stroke="#2a7a70" stroke-width="3.5" />
<line x1="1781.2" y1="1920.0" x2="1795.2" y2="1920.0" stroke="#2a7a70" stroke-width="3.5" />
<line x1="1781.2" y1="1963.2" x2="1795.2" y2="1963.2" stroke="#2a7a70" stroke-width="3.5" />
<line x1="1885.4" y1="1905.7" x2="1885.4" y2="1948.8" stroke="#2a7a70" stroke-width="3.5" />
<line x1="1878.4" y1="1905.7" x2="1892.4" y2="1905.7" stroke="#2a7a70" stroke-width="3.5" />
<line x1="1878.4" y1="1948.8" x2="1892.4" y2="1948.8" stroke="#2a7a70" stroke-width="3.5" />
<line x1="1982.6" y1="1859.0" x2="1982.6" y2="1923.6" stroke="#2a7a70" stroke-width="3.5" />
<line x1="1975.6" y1="1859.0" x2="1989.6" y2="1859.0" stroke="#2a7a70" stroke-width="3.5" />
<line x1="1975.6" y1="1923.6" x2="1989.6" y2="1923.6" stroke="#2a7a70" stroke-width="3.5" />
<line x1="2079.9" y1="1808.7" x2="2079.9" y2="1909.3" stroke="#2a7a70" stroke-width="3.5" />
<line x1="2072.9" y1="1808.7" x2="2086.9" y2="1808.7" stroke="#2a7a70" stroke-width="3.5" />
<line x1="2072.9" y1="1909.3" x2="2086.9" y2="1909.3" stroke="#2a7a70" stroke-width="3.5" />
<line x1="2177.1" y1="1762.0" x2="2177.1" y2="1826.6" stroke="#2a7a70" stroke-width="3.5" />
<line x1="2170.1" y1="1762.0" x2="2184.1" y2="1762.0" stroke="#2a7a70" stroke-width="3.5" />
<line x1="2170.1" y1="1826.6" x2="2184.1" y2="1826.6" stroke="#2a7a70" stroke-width="3.5" />
<line x1="2274.4" y1="1709.9" x2="2274.4" y2="1792.5" stroke="#2a7a70" stroke-width="3.5" />
<line x1="2267.4" y1="1709.9" x2="2281.4" y2="1709.9" stroke="#2a7a70" stroke-width="3.5" />
<line x1="2267.4" y1="1792.5" x2="2281.4" y2="1792.5" stroke="#2a7a70" stroke-width="3.5" />
<line x1="2371.6" y1="1627.2" x2="2371.6" y2="1760.2" stroke="#2a7a70" stroke-width="3.5" />
<line x1="2364.6" y1="1627.2" x2="2378.6" y2="1627.2" stroke="#2a7a70" stroke-width="3.5" />
<line x1="2364.6" y1="1760.2" x2="2378.6" y2="1760.2" stroke="#2a7a70" stroke-width="3.5" />
<polyline points="1690.9,1973.9 1788.2,1968.6 1885.4,1972.1 1982.6,1952.4 2079.9,1972.1 2177.1,1968.6 2274.4,1970.3 2371.6,1972.1" fill="none" stroke="#c83a3a" stroke-width="4" stroke-linejoin="round" />
<polyline points="1690.9,1970.3 1788.2,1945.2 1885.4,1927.2 1982.6,1891.3 2079.9,1862.6 2177.1,1826.6 2274.4,1744.0 2371.6,1672.1" fill="none" stroke="#1a1a1a" stroke-width="4" stroke-linejoin="round" />
<polyline points="1690.9,1966.8 1788.2,1941.6 1885.4,1927.2 1982.6,1891.3 2079.9,1859.0 2177.1,1794.3 2274.4,1751.2 2371.6,1693.7" fill="none" stroke="#2a7a70" stroke-width="4" stroke-linejoin="round" />
<polyline points="1690.9,1963.2 1788.2,1941.6 1885.4,1916.5 1982.6,1887.7 2079.9,1830.2 2177.1,1783.5 2274.4,1722.4 2371.6,1661.4" fill="none" stroke="#2b2ba8" stroke-width="4" stroke-linejoin="round" />
<circle cx="1690.9" cy="1973.9" r="7.0" fill="#b01818"/>
<circle cx="1788.2" cy="1968.6" r="7.0" fill="#b01818"/>
<circle cx="1885.4" cy="1972.1" r="7.0" fill="#b01818"/>
<circle cx="1982.6" cy="1952.4" r="7.0" fill="#b01818"/>
<circle cx="2079.9" cy="1972.1" r="7.0" fill="#b01818"/>
<circle cx="2177.1" cy="1968.6" r="7.0" fill="#b01818"/>
<circle cx="2274.4" cy="1970.3" r="7.0" fill="#b01818"/>
<circle cx="2371.6" cy="1972.1" r="7.0" fill="#b01818"/>
<circle cx="1690.9" cy="1970.3" r="6.0" fill="#000"/>
<circle cx="1788.2" cy="1945.2" r="6.0" fill="#000"/>
<circle cx="1885.4" cy="1927.2" r="6.0" fill="#000"/>
<circle cx="1982.6" cy="1891.3" r="6.0" fill="#000"/>
<circle cx="2079.9" cy="1862.6" r="6.0" fill="#000"/>
<circle cx="2177.1" cy="1826.6" r="6.0" fill="#000"/>
<circle cx="2274.4" cy="1744.0" r="6.0" fill="#000"/>
<circle cx="2371.6" cy="1672.1" r="6.0" fill="#000"/>
<polygon points="1684.9,1966.8 1696.9,1966.8 1690.9,1956.6" fill="#1010a0"/>
<polygon points="1782.2,1945.2 1794.2,1945.2 1788.2,1935.0" fill="#1010a0"/>
<polygon points="1879.4,1920.1 1891.4,1920.1 1885.4,1909.9" fill="#1010a0"/>
<polygon points="1976.6,1891.3 1988.6,1891.3 1982.6,1881.1" fill="#1010a0"/>
<polygon points="2073.9,1833.8 2085.9,1833.8 2079.9,1823.6" fill="#1010a0"/>
<polygon points="2171.1,1787.1 2183.1,1787.1 2177.1,1776.9" fill="#1010a0"/>
<polygon points="2268.4,1726.0 2280.4,1726.0 2274.4,1715.8" fill="#1010a0"/>
<polygon points="2365.6,1665.0 2377.6,1665.0 2371.6,1654.8" fill="#1010a0"/>
<polygon points="1684.9,1963.2 1696.9,1963.2 1690.9,1973.4" fill="#156a5a"/>
<polygon points="1782.2,1938.0 1794.2,1938.0 1788.2,1948.2" fill="#156a5a"/>
<polygon points="1879.4,1923.6 1891.4,1923.6 1885.4,1933.8" fill="#156a5a"/>
<polygon points="1976.6,1887.7 1988.6,1887.7 1982.6,1897.9" fill="#156a5a"/>
<polygon points="2073.9,1855.4 2085.9,1855.4 2079.9,1865.6" fill="#156a5a"/>
<polygon points="2171.1,1790.7 2183.1,1790.7 2177.1,1800.9" fill="#156a5a"/>
<polygon points="2268.4,1747.6 2280.4,1747.6 2274.4,1757.8" fill="#156a5a"/>
<polygon points="2365.6,1690.1 2377.6,1690.1 2371.6,1700.3" fill="#156a5a"/>
<rect x="1686" y="1481" width="200" height="174" fill="none" stroke="#b0b0b0" stroke-width="3"/>
<rect x="1760" y="1470" width="150" height="200" fill="#fff"/>
<line x1="1689.0" y1="1506.0" x2="1760.0" y2="1506.0" stroke="#1a1a1a" stroke-width="4.5" />
<circle cx="1724.0" cy="1506.0" r="7.0" fill="#000"/>
<line x1="1689.0" y1="1549.5" x2="1760.0" y2="1549.5" stroke="#c83a3a" stroke-width="4.5" />
<circle cx="1724.0" cy="1549.5" r="7.0" fill="#b01010"/>
<line x1="1689.0" y1="1593.5" x2="1760.0" y2="1593.5" stroke="#2b2ba8" stroke-width="4.5" />
<polygon points="1717.0,1597.7 1731.0,1597.7 1724.0,1585.8" fill="#1010a0"/>
<line x1="1689.0" y1="1638.0" x2="1760.0" y2="1638.0" stroke="#2a7a70" stroke-width="4.5" />
<polygon points="1717.0,1633.8 1731.0,1633.8 1724.0,1645.7" fill="#156a5a"/>
<text x="1773.0" y="1524.0" font-size="53" font-weight="normal" text-anchor="start" fill="#000" font-family='"Liberation Sans", Arial, sans-serif' textLength="129" lengthAdjust="spacingAndGlyphs" >Saline</text>
<text x="1773.0" y="1568.0" font-size="53" font-weight="normal" text-anchor="start" fill="#000" font-family='"Liberation Sans", Arial, sans-serif' textLength="244" lengthAdjust="spacingAndGlyphs" >CDs + Laser</text>
<text x="1773.0" y="1612.0" font-size="53" font-weight="normal" text-anchor="start" fill="#000" font-family='"Liberation Sans", Arial, sans-serif' textLength="82" lengthAdjust="spacingAndGlyphs" >CDs</text>
<text x="1778.0" y="1656.0" font-size="53" font-weight="normal" text-anchor="start" fill="#000" font-family='"Liberation Sans", Arial, sans-serif' textLength="111" lengthAdjust="spacingAndGlyphs" >Laser</text>
<text x="1492.0" y="1512.0" font-size="66" font-weight="normal" text-anchor="middle" fill="#000" font-family='"Liberation Sans", Arial, sans-serif' >(f)</text>
</svg></body></html>
